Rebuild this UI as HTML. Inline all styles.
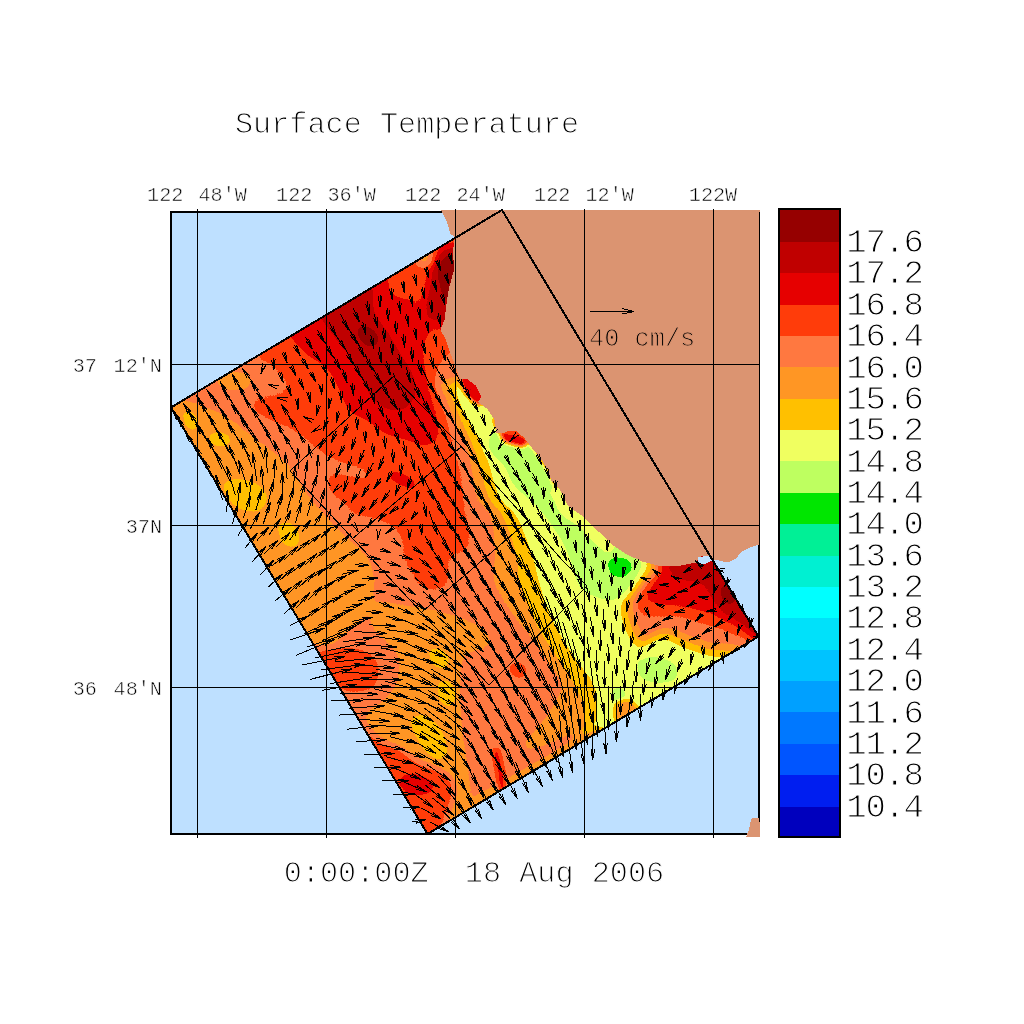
<!DOCTYPE html>
<html><head><meta charset="utf-8"><title>Surface Temperature</title>
<style>html,body{margin:0;padding:0;background:#fff}svg{display:block}text{font-family:"Liberation Mono","DejaVu Sans Mono",monospace;fill:#000;stroke:#fff;stroke-width:1.1px;white-space:pre}.s{stroke-width:.55px}</style></head><body>
<svg width="1024" height="1024" viewBox="0 0 1024 1024">
<defs>
<filter id="post" filterUnits="userSpaceOnUse" x="100" y="150" width="720" height="740" color-interpolation-filters="sRGB"><feComponentTransfer><feFuncR type="discrete" tableValues="0.0000 0.0000 0.0000 0.0000 0.0000 0.0000 0.0000 0.0000 0.0000 0.0000 0.0000 0.7451 0.9412 1.0000 1.0000 1.0000 1.0000 0.9020 0.7529 0.5882"/><feFuncG type="discrete" tableValues="0.0000 0.1176 0.3333 0.4706 0.6275 0.7647 0.8824 1.0000 0.9412 0.9412 0.9020 1.0000 1.0000 0.7529 0.5882 0.4706 0.2353 0.0000 0.0000 0.0000"/><feFuncB type="discrete" tableValues="0.7451 0.9412 1.0000 1.0000 1.0000 1.0000 0.9804 1.0000 0.8235 0.5882 0.0000 0.3765 0.3765 0.0000 0.1412 0.2510 0.0392 0.0000 0.0000 0.0000"/></feComponentTransfer></filter>
<filter id="b1" filterUnits="userSpaceOnUse" x="100" y="150" width="720" height="740" color-interpolation-filters="sRGB"><feGaussianBlur stdDeviation="7"/></filter>
<filter id="b2" filterUnits="userSpaceOnUse" x="100" y="150" width="720" height="740" color-interpolation-filters="sRGB"><feGaussianBlur stdDeviation="4"/></filter>
<filter id="b3" filterUnits="userSpaceOnUse" x="100" y="150" width="720" height="740" color-interpolation-filters="sRGB"><feGaussianBlur stdDeviation="2.2"/></filter>
<clipPath id="dom"><polygon points="502.0,210.0 171.0,407.5 427.5,834.0 758.5,636.5"/></clipPath>
<clipPath id="frm"><rect x="172" y="213" width="586" height="620"/></clipPath>
</defs>
<rect width="1024" height="1024" fill="#fff"/>
<rect x="171" y="212" width="588" height="622" fill="#bee0ff"/>
<g clip-path="url(#dom)"><g filter="url(#post)">
<rect x="100" y="150" width="720" height="740" fill="#c6c6c6"/>
<g filter="url(#b1)">
<path d="M255.0,340.0C267.3,325.3 319.2,299.2 350.0,280.0C380.8,260.8 419.2,235.8 440.0,225.0C460.8,214.2 469.2,202.5 475.0,215.0C480.8,227.5 477.5,279.2 475.0,300.0C472.5,320.8 464.7,330.8 460.0,340.0C455.3,349.2 450.7,350.8 447.0,355.0C443.3,359.2 440.5,360.0 438.0,365.0C435.5,370.0 430.8,375.8 432.0,385.0C433.2,394.2 441.2,408.3 445.0,420.0C448.8,431.7 452.3,445.0 455.0,455.0C457.7,465.0 459.5,470.8 461.0,480.0C462.5,489.2 462.7,501.3 464.0,510.0C465.3,518.7 468.8,525.0 469.0,532.0C469.2,539.0 468.5,548.0 465.0,552.0C461.5,556.0 451.2,550.8 448.0,556.0C444.8,561.2 449.7,578.2 446.0,583.0C442.3,587.8 432.5,588.2 426.0,585.0C419.5,581.8 411.5,573.2 407.0,564.0C402.5,554.8 404.8,537.8 399.0,530.0C393.2,522.2 381.8,520.5 372.0,517.0C362.2,513.5 348.5,514.8 340.0,509.0C331.5,503.2 326.5,489.3 321.0,482.0C315.5,474.7 310.0,471.2 307.0,465.0C304.0,458.8 306.3,451.2 303.0,445.0C299.7,438.8 292.8,432.5 287.0,428.0C281.2,423.5 274.5,421.7 268.0,418.0C261.5,414.3 249.0,409.3 248.0,406.0C247.0,402.7 256.7,399.8 262.0,398.0C267.3,396.2 275.2,396.7 280.0,395.0C284.8,393.3 291.7,392.5 291.0,388.0C290.3,383.5 282.0,376.0 276.0,368.0C270.0,360.0 242.7,354.7 255.0,340.0Z" fill="#d2d2d2"/>
<path d="M286.0,328.0C293.2,321.2 318.5,307.0 335.0,297.0C351.5,287.0 376.2,269.5 385.0,268.0C393.8,266.5 386.2,282.8 388.0,288.0C389.8,293.2 392.8,297.5 396.0,299.0C399.2,300.5 403.5,296.0 407.0,297.0C410.5,298.0 414.0,304.7 417.0,305.0C420.0,305.3 422.5,303.2 425.0,299.0C427.5,294.8 430.2,286.8 432.0,280.0C433.8,273.2 431.7,262.7 436.0,258.0C440.3,253.3 454.3,240.8 458.0,252.0C461.7,263.2 461.0,312.5 458.0,325.0C455.0,337.5 445.0,325.8 440.0,327.0C435.0,328.2 430.8,328.2 428.0,332.0C425.2,335.8 423.7,344.5 423.0,350.0C422.3,355.5 422.7,359.3 424.0,365.0C425.3,370.7 428.8,377.2 431.0,384.0C433.2,390.8 435.5,398.3 437.0,406.0C438.5,413.7 440.5,423.7 440.0,430.0C439.5,436.3 437.1,441.3 434.0,444.0C430.9,446.7 425.8,446.7 421.6,446.0C417.4,445.3 413.4,441.6 408.7,440.0C404.0,438.4 397.9,438.0 393.4,436.7C388.9,435.4 385.0,433.9 381.7,432.0C378.4,430.1 376.3,427.3 373.5,425.0C370.7,422.7 367.7,419.2 365.0,418.0C362.3,416.8 360.7,419.5 357.5,417.5C354.3,415.5 349.1,411.1 345.8,405.8C342.6,400.6 341.3,392.5 338.0,386.0C334.7,379.5 331.2,371.9 326.0,366.7C320.8,361.5 312.4,359.8 306.7,355.0C301.0,350.2 295.4,342.5 292.0,338.0C288.6,333.5 278.8,334.8 286.0,328.0Z" fill="#dfdfdf"/>
<path d="M318.0,304.0C324.2,294.7 358.8,274.8 368.0,276.0C377.2,277.2 370.1,301.7 373.4,311.0C376.6,320.3 383.1,324.5 387.5,331.6C391.9,338.7 396.4,347.4 400.0,353.4C403.6,359.4 406.8,362.8 409.4,367.5C412.0,372.2 414.6,376.9 415.6,381.6C416.6,386.3 416.9,391.2 415.6,395.6C414.3,400.0 411.4,405.4 407.8,408.0C404.2,410.6 398.2,411.2 393.8,411.0C389.3,410.8 385.0,409.2 381.0,406.6C377.0,404.0 373.1,400.0 370.0,395.6C366.9,391.2 365.3,385.8 362.5,380.0C359.7,374.2 356.4,366.5 353.0,361.0C349.6,355.5 345.7,351.9 342.0,347.0C338.3,342.1 335.0,338.8 331.0,331.6C327.0,324.4 311.8,313.3 318.0,304.0Z" fill="#ececec"/>
<path d="M651.8,560.0C644.8,565.8 641.3,578.2 638.0,585.0C634.7,591.8 632.0,595.8 632.0,600.6C632.0,605.4 634.4,611.4 638.0,614.0C641.6,616.6 648.5,616.0 653.8,616.0C659.0,616.0 664.2,614.0 669.4,614.0C674.6,614.0 679.8,614.7 685.0,616.0C690.2,617.3 695.4,620.3 700.6,622.0C705.8,623.7 710.1,624.3 716.0,626.0C721.9,627.7 726.8,628.8 735.8,632.0C744.8,635.2 761.0,650.3 770.0,645.0C779.0,639.7 798.3,616.7 790.0,600.0C781.7,583.3 738.3,553.3 720.0,545.0C701.7,536.7 691.4,547.5 680.0,550.0C668.6,552.5 658.8,554.2 651.8,560.0Z" fill="#d2d2d2"/>
<path d="M656.0,562.0C650.7,566.7 650.2,574.3 648.0,580.0C645.8,585.7 641.8,592.0 643.0,596.0C644.2,600.0 649.3,602.2 655.0,604.0C660.7,605.8 669.5,605.3 677.0,606.5C684.5,607.7 693.5,609.4 700.0,611.0C706.5,612.6 710.0,613.5 716.0,616.0C722.0,618.5 727.0,622.0 736.0,626.0C745.0,630.0 761.8,644.3 770.0,640.0C778.2,635.7 793.3,615.8 785.0,600.0C776.7,584.2 737.5,553.0 720.0,545.0C702.5,537.0 690.7,549.2 680.0,552.0C669.3,554.8 661.3,557.3 656.0,562.0Z" fill="#dfdfdf"/>
</g>
<g filter="url(#b2)">
<path d="M358.0,328.0C359.7,326.3 368.7,328.0 372.0,330.0C375.3,332.0 378.0,337.3 378.0,340.0C378.0,342.7 374.7,346.0 372.0,346.0C369.3,346.0 364.3,343.0 362.0,340.0C359.7,337.0 356.3,329.7 358.0,328.0Z" fill="#ffffff"/>
<path d="M432.0,256.0C437.3,251.0 457.0,239.0 462.0,250.0C467.0,261.0 465.7,310.0 462.0,322.0C458.3,334.0 445.7,322.7 440.0,322.0C434.3,321.3 430.3,321.7 428.0,318.0C425.7,314.3 425.7,306.3 426.0,300.0C426.3,293.7 429.0,287.3 430.0,280.0C431.0,272.7 426.7,261.0 432.0,256.0Z" fill="#ececec"/>
<path d="M440.0,262.0C443.5,257.5 458.3,252.0 462.0,258.0C465.7,264.0 464.7,291.3 462.0,298.0C459.3,304.7 449.5,300.2 446.0,298.0C442.5,295.8 442.0,291.0 441.0,285.0C440.0,279.0 436.5,266.5 440.0,262.0Z" fill="#fcfcfc"/>
<path d="M414.0,254.0C415.3,250.0 428.7,242.7 432.0,244.0C435.3,245.3 435.3,258.0 434.0,262.0C432.7,266.0 427.3,269.3 424.0,268.0C420.7,266.7 412.7,258.0 414.0,254.0Z" fill="#bcbcbc"/>
<path d="M160.0,395.0C165.3,394.0 186.2,400.5 197.0,404.0C207.8,407.5 216.5,411.2 225.0,416.0C233.5,420.8 240.5,427.3 248.0,433.0C255.5,438.7 263.5,444.8 270.0,450.0C276.5,455.2 280.8,456.7 287.0,464.0C293.2,471.3 300.5,485.2 307.0,494.0C313.5,502.8 319.5,509.8 326.0,517.0C332.5,524.2 338.7,529.5 346.0,537.0C353.3,544.5 365.7,551.5 370.0,562.0C374.3,572.5 375.3,588.7 372.0,600.0C368.7,611.3 360.3,623.3 350.0,630.0C339.7,636.7 328.3,658.3 310.0,640.0C291.7,621.7 264.2,558.3 240.0,520.0C215.8,481.7 178.3,430.8 165.0,410.0C151.7,389.2 154.7,396.0 160.0,395.0Z" fill="#b9b9b9"/>
<path d="M372.0,603.0C378.3,599.8 398.7,604.5 410.0,606.0C421.3,607.5 430.0,609.3 440.0,612.0C450.0,614.7 462.0,618.3 470.0,622.0C478.0,625.7 485.3,629.7 488.0,634.0C490.7,638.3 490.0,644.3 486.0,648.0C482.0,651.7 468.3,649.0 464.0,656.0C459.7,663.0 460.3,677.7 460.0,690.0C459.7,702.3 460.7,716.7 462.0,730.0C463.3,743.3 466.7,758.3 468.0,770.0C469.3,781.7 471.7,792.0 470.0,800.0C468.3,808.0 461.3,818.0 458.0,818.0C454.7,818.0 451.0,806.3 450.0,800.0C449.0,793.7 454.2,785.2 452.0,780.0C449.8,774.8 442.8,772.2 437.0,769.0C431.2,765.8 423.0,764.3 417.0,761.0C411.0,757.7 406.8,752.3 401.0,749.0C395.2,745.7 387.2,743.8 382.0,741.0C376.8,738.2 372.7,736.5 370.0,732.0C367.3,727.5 363.5,719.3 366.0,714.0C368.5,708.7 379.7,705.7 385.0,700.0C390.3,694.3 395.8,687.5 398.0,680.0C400.2,672.5 400.2,661.7 398.0,655.0C395.8,648.3 389.3,645.0 385.0,640.0C380.7,635.0 374.2,631.2 372.0,625.0C369.8,618.8 365.7,606.2 372.0,603.0Z" fill="#b9b9b9"/>
<path d="M318.0,655.0C318.3,649.3 332.7,650.5 340.0,650.0C347.3,649.5 356.0,649.7 362.0,652.0C368.0,654.3 374.0,658.7 376.0,664.0C378.0,669.3 377.3,679.7 374.0,684.0C370.7,688.3 362.0,690.0 356.0,690.0C350.0,690.0 344.3,689.8 338.0,684.0C331.7,678.2 317.7,660.7 318.0,655.0Z" fill="#d7d7d7"/>
<path d="M360.0,725.0C355.1,713.6 366.6,729.0 370.3,731.8C374.0,734.5 376.8,738.6 382.0,741.5C387.2,744.4 395.7,746.1 401.5,749.4C407.3,752.6 411.1,757.7 417.0,761.0C422.9,764.3 430.9,765.7 436.7,769.0C442.5,772.3 449.1,776.1 452.0,780.6C454.9,785.1 455.2,790.1 454.0,796.0C452.8,801.9 448.5,808.5 444.5,815.8C440.5,823.1 437.4,842.6 430.0,840.0C422.6,837.4 411.7,819.2 400.0,800.0C388.3,780.8 364.9,736.4 360.0,725.0Z" fill="#d2d2d2"/>
<path d="M400.0,778.0C402.0,775.7 409.8,774.3 415.0,775.0C420.2,775.7 428.2,779.3 431.0,782.0C433.8,784.7 434.2,789.0 432.0,791.0C429.8,793.0 422.8,794.3 418.0,794.0C413.2,793.7 406.0,791.7 403.0,789.0C400.0,786.3 398.0,780.3 400.0,778.0Z" fill="#e2e2e2"/>
<path d="M285.0,432.0C286.3,428.5 295.2,433.8 300.0,436.0C304.8,438.2 309.0,441.5 314.0,445.0C319.0,448.5 324.3,453.8 330.0,457.0C335.7,460.2 342.0,461.8 348.0,464.0C354.0,466.2 362.8,467.5 366.0,470.0C369.2,472.5 370.0,478.0 367.0,479.0C364.0,480.0 353.7,476.8 348.0,476.0C342.3,475.2 336.7,472.7 333.0,474.0C329.3,475.3 325.8,480.2 326.0,484.0C326.2,487.8 330.0,493.0 334.0,497.0C338.0,501.0 349.0,505.3 350.0,508.0C351.0,510.7 345.0,514.0 340.0,513.0C335.0,512.0 325.8,507.2 320.0,502.0C314.2,496.8 309.7,489.5 305.0,482.0C300.3,474.5 295.3,465.3 292.0,457.0C288.7,448.7 283.7,435.5 285.0,432.0Z" fill="#c6c6c6"/>
<path d="M440.0,383.0C438.2,386.2 444.5,392.8 447.0,399.0C449.5,405.2 451.2,410.7 455.0,420.0C458.8,429.3 465.8,442.2 469.5,455.0C473.2,467.8 473.4,486.8 477.0,497.0C480.6,507.2 488.0,506.3 491.0,516.0C494.0,525.7 494.5,544.3 495.0,555.0C495.5,565.7 491.5,570.8 494.0,580.0C496.5,589.2 503.7,600.3 510.0,610.0C516.3,619.7 525.3,628.8 532.0,638.0C538.7,647.2 545.0,656.8 550.0,665.0C555.0,673.2 562.3,678.7 562.0,687.0C561.7,695.3 552.5,704.8 548.0,715.0C543.5,725.2 503.9,757.6 535.0,748.0C566.1,738.4 706.0,674.7 734.8,657.2C763.5,639.7 715.0,646.5 707.4,643.0C699.8,639.5 694.5,638.4 689.3,636.3C684.2,634.3 680.9,631.9 676.6,630.7C672.3,629.6 668.2,628.0 663.4,629.5C658.5,631.0 651.8,640.2 647.5,639.7C643.3,639.3 640.3,633.0 637.9,627.0C635.5,621.0 631.9,610.4 632.9,603.7C633.9,597.0 639.7,593.0 643.9,586.8C648.1,580.6 661.1,573.5 658.1,566.4C655.2,559.3 635.9,551.1 626.0,544.0C616.1,536.9 608.3,532.0 599.0,524.0C589.7,516.0 577.5,504.7 570.0,496.0C562.5,487.3 559.5,480.8 554.0,472.0C548.5,463.2 544.3,451.0 537.0,443.0C529.7,435.0 516.3,428.8 510.0,424.0C503.7,419.2 502.8,418.3 499.0,414.0C495.2,409.7 491.5,403.2 487.0,398.0C482.5,392.8 476.8,386.0 472.0,383.0C467.2,380.0 463.3,380.0 458.0,380.0C452.7,380.0 441.8,379.8 440.0,383.0Z" fill="#b9b9b9"/>
<path d="M446.0,386.0C445.2,389.2 450.6,393.3 453.0,399.0C455.4,404.7 456.8,410.7 460.6,420.0C464.4,429.3 471.4,442.2 476.0,455.0C480.6,467.8 484.0,486.8 488.5,497.0C493.0,507.2 498.3,506.3 503.0,516.0C507.7,525.7 513.8,544.3 516.5,555.0C519.2,565.7 516.8,570.8 519.0,580.0C521.2,589.2 525.8,600.3 530.0,610.0C534.2,619.7 538.7,628.8 544.0,638.0C549.3,647.2 556.7,656.8 562.0,665.0C567.3,673.2 572.0,678.7 576.0,687.0C580.0,695.3 583.8,705.3 586.0,715.0C588.2,724.7 563.8,753.7 589.0,745.0C614.2,736.3 717.6,678.6 737.4,662.6C757.2,646.6 716.1,652.5 707.7,649.0C699.3,645.6 693.0,644.2 687.2,641.9C681.4,639.6 677.5,636.8 672.8,635.4C668.1,633.9 663.7,631.9 658.7,633.2C653.7,634.6 647.1,644.0 642.8,643.4C638.4,642.7 635.1,636.0 632.4,629.5C629.8,623.0 626.1,611.6 627.0,604.4C627.9,597.1 633.6,592.8 637.9,585.9C642.3,579.0 655.1,570.2 653.1,563.2C651.1,556.2 635.0,550.5 626.0,544.0C617.0,537.5 608.3,532.0 599.0,524.0C589.7,516.0 577.5,504.7 570.0,496.0C562.5,487.3 559.5,480.8 554.0,472.0C548.5,463.2 544.3,451.0 537.0,443.0C529.7,435.0 516.3,428.8 510.0,424.0C503.7,419.2 502.8,418.3 499.0,414.0C495.2,409.7 491.5,403.2 487.0,398.0C482.5,392.8 476.8,386.0 472.0,383.0C467.2,380.0 462.3,379.5 458.0,380.0C453.7,380.5 446.8,382.8 446.0,386.0Z" fill="#acacac"/>
<path d="M457.0,399.0C458.7,405.7 463.6,410.7 468.4,420.0C473.2,429.3 480.9,442.2 486.0,455.0C491.1,467.8 493.9,486.8 499.0,497.0C504.1,507.2 511.0,506.3 516.5,516.0C522.0,525.7 528.3,544.3 532.0,555.0C535.7,565.7 535.9,570.8 538.6,580.0C541.3,589.2 544.1,600.3 548.0,610.0C551.9,619.7 556.7,628.8 562.0,638.0C567.3,647.2 574.5,656.8 580.0,665.0C585.5,673.2 592.2,678.7 595.0,687.0C597.8,695.3 596.5,704.8 597.0,715.0C597.5,725.2 574.2,755.8 598.0,748.0C621.8,740.2 721.7,683.5 740.0,668.0C758.3,652.5 717.2,658.4 708.0,655.0C698.8,651.6 691.5,650.0 685.0,647.5C678.5,645.0 674.2,641.8 669.0,640.0C663.8,638.2 659.2,635.8 654.0,637.0C648.8,638.2 642.5,647.8 638.0,647.0C633.5,646.2 629.8,639.0 627.0,632.0C624.2,625.0 620.2,612.8 621.0,605.0C621.8,597.2 627.5,592.5 632.0,585.0C636.5,577.5 649.0,566.8 648.0,560.0C647.0,553.2 634.2,550.0 626.0,544.0C617.8,538.0 608.3,532.0 599.0,524.0C589.7,516.0 577.5,504.7 570.0,496.0C562.5,487.3 559.5,480.8 554.0,472.0C548.5,463.2 544.3,451.0 537.0,443.0C529.7,435.0 516.3,428.8 510.0,424.0C503.7,419.2 502.8,418.3 499.0,414.0C495.2,409.7 491.5,403.2 487.0,398.0C482.5,392.8 476.8,386.0 472.0,383.0C467.2,380.0 460.5,377.3 458.0,380.0C455.5,382.7 455.3,392.3 457.0,399.0Z" fill="#9f9f9f"/>
<path d="M487.0,448.0C488.5,454.0 499.5,459.7 504.0,466.0C508.5,472.3 508.3,479.0 514.0,486.0C519.7,493.0 530.3,499.3 538.0,508.0C545.7,516.7 554.5,529.0 560.0,538.0C565.5,547.0 567.7,553.7 571.0,562.0C574.3,570.3 574.3,581.7 580.0,588.0C585.7,594.3 597.7,598.5 605.0,600.0C612.3,601.5 618.7,600.2 624.0,597.0C629.3,593.8 633.7,586.5 637.0,581.0C640.3,575.5 645.8,570.5 644.0,564.0C642.2,557.5 633.3,549.3 626.0,542.0C618.7,534.7 609.3,528.2 600.0,520.0C590.7,511.8 578.0,501.7 570.0,493.0C562.0,484.3 557.8,477.2 552.0,468.0C546.2,458.8 542.0,445.5 535.0,438.0C528.0,430.5 516.7,424.3 510.0,423.0C503.3,421.7 498.8,425.8 495.0,430.0C491.2,434.2 485.5,442.0 487.0,448.0Z" fill="#939393"/>
<path d="M669.0,563.0C666.3,567.0 670.5,574.0 674.0,577.0C677.5,580.0 685.2,579.8 690.0,581.0C694.8,582.2 699.3,581.2 703.0,584.0C706.7,586.8 708.8,593.3 712.0,598.0C715.2,602.7 717.7,608.0 722.0,612.0C726.3,616.0 730.8,617.3 738.0,622.0C745.2,626.7 758.0,643.7 765.0,640.0C772.0,636.3 787.5,615.3 780.0,600.0C772.5,584.7 735.0,555.8 720.0,548.0C705.0,540.2 698.5,550.5 690.0,553.0C681.5,555.5 671.7,559.0 669.0,563.0Z" fill="#ececec"/>
</g>
<g filter="url(#b3)">
<path d="M218.0,376.0C220.3,373.7 228.8,372.0 234.0,372.0C239.2,372.0 246.7,373.5 249.0,376.0C251.3,378.5 250.8,384.7 248.0,387.0C245.2,389.3 236.7,390.2 232.0,390.0C227.3,389.8 222.3,388.3 220.0,386.0C217.7,383.7 215.7,378.3 218.0,376.0Z" fill="#b9b9b9"/>
<path d="M184.0,414.0C184.8,411.8 189.8,411.7 192.0,413.0C194.2,414.3 196.7,419.3 197.0,422.0C197.3,424.7 195.7,428.3 194.0,429.0C192.3,429.7 188.7,428.5 187.0,426.0C185.3,423.5 183.2,416.2 184.0,414.0Z" fill="#a7a7a7"/>
<path d="M210.0,436.0C211.0,434.2 216.8,432.7 220.0,433.0C223.2,433.3 228.0,436.0 229.0,438.0C230.0,440.0 228.5,444.0 226.0,445.0C223.5,446.0 216.7,445.5 214.0,444.0C211.3,442.5 209.0,437.8 210.0,436.0Z" fill="#a7a7a7"/>
<path d="M225.0,484.0C227.0,481.0 234.5,479.7 240.0,480.0C245.5,480.3 253.7,483.0 258.0,486.0C262.3,489.0 266.0,494.0 266.0,498.0C266.0,502.0 262.3,508.3 258.0,510.0C253.7,511.7 245.0,510.0 240.0,508.0C235.0,506.0 230.5,502.0 228.0,498.0C225.5,494.0 223.0,487.0 225.0,484.0Z" fill="#a7a7a7"/>
<path d="M279.0,527.0C280.0,523.8 286.8,522.8 290.0,524.0C293.2,525.2 297.0,530.5 298.0,534.0C299.0,537.5 298.3,543.5 296.0,545.0C293.7,546.5 286.8,546.0 284.0,543.0C281.2,540.0 278.0,530.2 279.0,527.0Z" fill="#a7a7a7"/>
<path d="M412.0,722.0C412.5,717.2 420.3,714.7 425.0,716.0C429.7,717.3 436.5,724.0 440.0,730.0C443.5,736.0 446.7,747.3 446.0,752.0C445.3,756.7 440.0,759.2 436.0,758.0C432.0,756.8 426.0,751.0 422.0,745.0C418.0,739.0 411.5,726.8 412.0,722.0Z" fill="#a7a7a7"/>
<path d="M430.0,652.0C431.0,649.7 437.0,649.0 440.0,650.0C443.0,651.0 447.3,655.2 448.0,658.0C448.7,660.8 446.3,666.0 444.0,667.0C441.7,668.0 436.3,666.5 434.0,664.0C431.7,661.5 429.0,654.3 430.0,652.0Z" fill="#a7a7a7"/>
<path d="M439.0,684.0C440.5,681.2 447.3,681.3 450.0,683.0C452.7,684.7 455.0,690.3 455.0,694.0C455.0,697.7 452.3,704.0 450.0,705.0C447.7,706.0 442.8,703.5 441.0,700.0C439.2,696.5 437.5,686.8 439.0,684.0Z" fill="#a7a7a7"/>
<path d="M511.0,666.0C512.2,664.3 517.5,663.3 520.0,664.0C522.5,664.7 525.8,667.8 526.0,670.0C526.2,672.2 523.2,676.3 521.0,677.0C518.8,677.7 514.7,675.8 513.0,674.0C511.3,672.2 509.8,667.7 511.0,666.0Z" fill="#d7d7d7"/>
<path d="M416.0,561.0C418.5,557.8 427.2,557.2 432.0,558.0C436.8,558.8 443.0,561.8 445.0,566.0C447.0,570.2 446.8,579.5 444.0,583.0C441.2,586.5 432.5,588.0 428.0,587.0C423.5,586.0 419.0,581.3 417.0,577.0C415.0,572.7 413.5,564.2 416.0,561.0Z" fill="#d6d6d6"/>
<path d="M391.0,473.0C392.7,472.2 398.2,472.5 402.0,474.0C405.8,475.5 412.3,479.7 414.0,482.0C415.7,484.3 414.3,487.7 412.0,488.0C409.7,488.3 403.3,485.5 400.0,484.0C396.7,482.5 393.5,480.8 392.0,479.0C390.5,477.2 389.3,473.8 391.0,473.0Z" fill="#e2e2e2"/>
<path d="M638.0,662.0C640.2,658.5 649.0,656.7 655.0,657.0C661.0,657.3 670.5,660.5 674.0,664.0C677.5,667.5 678.3,674.8 676.0,678.0C673.7,681.2 665.7,683.0 660.0,683.0C654.3,683.0 645.7,681.5 642.0,678.0C638.3,674.5 635.8,665.5 638.0,662.0Z" fill="#939393"/>
<path d="M612.0,690.0C613.7,688.2 619.7,686.8 622.0,688.0C624.3,689.2 626.5,694.5 626.0,697.0C625.5,699.5 621.3,702.7 619.0,703.0C616.7,703.3 613.2,701.2 612.0,699.0C610.8,696.8 610.3,691.8 612.0,690.0Z" fill="#939393"/>
<path d="M616.0,703.0C618.3,699.3 626.0,698.5 630.0,700.0C634.0,701.5 640.0,708.0 640.0,712.0C640.0,716.0 634.0,722.3 630.0,724.0C626.0,725.7 618.3,725.5 616.0,722.0C613.7,718.5 613.7,706.7 616.0,703.0Z" fill="#b6b6b6"/>
<path d="M609.0,562.0C610.0,559.3 614.8,558.2 618.0,558.0C621.2,557.8 625.8,559.2 628.0,561.0C630.2,562.8 631.8,566.5 631.0,569.0C630.2,571.5 626.2,575.2 623.0,576.0C619.8,576.8 614.3,576.3 612.0,574.0C609.7,571.7 608.0,564.7 609.0,562.0Z" fill="#838383"/>
<path d="M462.0,377.0C464.5,375.7 474.0,376.5 478.0,380.0C482.0,383.5 486.0,394.0 486.0,398.0C486.0,402.0 480.7,404.0 478.0,404.0C475.3,404.0 472.5,400.7 470.0,398.0C467.5,395.3 464.3,391.5 463.0,388.0C461.7,384.5 459.5,378.3 462.0,377.0Z" fill="#e5e5e5"/>
<path d="M501.0,430.0C503.2,427.7 511.5,425.0 516.0,426.0C520.5,427.0 526.7,432.7 528.0,436.0C529.3,439.3 526.7,444.7 524.0,446.0C521.3,447.3 515.5,445.0 512.0,444.0C508.5,443.0 504.8,442.3 503.0,440.0C501.2,437.7 498.8,432.3 501.0,430.0Z" fill="#e5e5e5"/>
<path d="M495.0,418.0C493.0,419.3 494.8,428.3 500.0,432.0C505.2,435.7 518.0,433.7 526.0,440.0C534.0,446.3 543.3,462.7 548.0,470.0C552.7,477.3 551.7,482.0 554.0,484.0C556.3,486.0 562.3,485.7 562.0,482.0C561.7,478.3 556.7,469.0 552.0,462.0C547.3,455.0 540.7,446.3 534.0,440.0C527.3,433.7 518.5,427.7 512.0,424.0C505.5,420.3 497.0,416.7 495.0,418.0Z" fill="#cccccc"/>
<path d="M722.0,588.0C723.0,585.5 727.7,584.0 730.0,585.0C732.3,586.0 735.7,591.0 736.0,594.0C736.3,597.0 734.0,602.0 732.0,603.0C730.0,604.0 725.7,602.5 724.0,600.0C722.3,597.5 721.0,590.5 722.0,588.0Z" fill="#ffffff"/>
<path d="M452.0,812.0C458.7,804.5 484.0,792.3 500.0,783.0C516.0,773.7 532.0,765.2 548.0,756.0C564.0,746.8 586.7,730.3 596.0,728.0C605.3,725.7 610.7,734.7 604.0,742.0C597.3,749.3 572.0,762.3 556.0,772.0C540.0,781.7 524.0,790.7 508.0,800.0C492.0,809.3 469.3,826.0 460.0,828.0C450.7,830.0 445.3,819.5 452.0,812.0Z" fill="#b6b6b6"/>
<path d="M493.0,752.0C493.5,748.3 497.2,747.0 499.0,750.0C500.8,753.0 502.8,763.3 504.0,770.0C505.2,776.7 506.7,786.2 506.0,790.0C505.3,793.8 501.7,796.0 500.0,793.0C498.3,790.0 497.2,778.8 496.0,772.0C494.8,765.2 492.5,755.7 493.0,752.0Z" fill="#dcdcdc"/>
<path d="M560.0,484.0C562.5,484.2 564.0,489.8 566.0,493.0C568.0,496.2 568.3,499.7 572.0,503.0C575.7,506.3 582.7,508.7 588.0,513.0C593.3,517.3 599.3,524.3 604.0,529.0C608.7,533.7 615.3,537.2 616.0,541.0C616.7,544.8 611.7,552.0 608.0,552.0C604.3,552.0 599.0,545.5 594.0,541.0C589.0,536.5 583.3,529.5 578.0,525.0C572.7,520.5 565.7,517.8 562.0,514.0C558.3,510.2 557.8,505.7 556.0,502.0C554.2,498.3 550.3,495.0 551.0,492.0C551.7,489.0 557.5,483.8 560.0,484.0Z" fill="#a4a4a4"/>
</g>
</g></g>
<rect x="171" y="212" width="588" height="622" fill="none" stroke="#000" stroke-width="2" shape-rendering="crispEdges"/>
<polygon points="441.0,210.0 444.0,216.0 447.0,222.0 449.0,228.0 450.0,234.0 453.0,235.5 455.0,237.0 453.0,250.0 454.0,270.0 449.0,288.0 447.0,300.0 444.5,320.0 440.5,330.0 446.0,340.0 451.0,355.0 455.0,365.0 459.8,378.6 467.0,379.0 475.5,385.4 481.3,397.0 478.0,402.0 487.2,408.8 495.0,420.5 496.0,433.0 503.0,433.5 506.7,431.5 516.0,431.0 524.3,438.0 532.0,448.0 540.0,457.7 547.7,469.4 551.6,481.0 558.0,487.0 563.0,495.0 568.0,506.0 583.0,516.5 599.0,532.0 611.0,544.0 626.0,554.0 642.0,561.5 662.0,566.5 681.0,565.5 696.7,562.5 698.7,556.7 708.4,555.7 714.3,559.6 728.0,562.5 735.8,558.6 741.6,551.8 751.4,547.0 757.3,545.0 759.5,545.0 759.5,210.0" fill="#db9471" shape-rendering="crispEdges"/>
<polygon points="752.0,818.0 759.8,818.0 759.8,837.0 746.0,837.0 749.0,830.0 750.0,824.0" fill="#db9471" shape-rendering="crispEdges"/>
<polygon points="698,557 708,556 713.5,560 706,563.5 698,563.5" fill="#bee0ff" shape-rendering="crispEdges"/>
<rect x="759" y="212" width="1" height="610" fill="#000"/>
<path d="M197.5,209V838M326.5,209V838M455.5,209V838M584.5,209V838M713.5,209V838M171,364.5H759M171,525.5H759M171,687.5H759" stroke="#000" stroke-width="1" fill="none" shape-rendering="crispEdges"/>
<path d="M290,471L393.4,376.4L461.4,446.7L528,521L560,557.7L587,586L489,685ZM352,539L461.4,446.7M422,612L528,521" stroke="#000" stroke-width="1" fill="none" shape-rendering="crispEdges"/>
<g clip-path="url(#frm)"><path d="M723.1,570.4L713.8,569.4M724.7,568.7L713.8,569.4L724.4,572.3M728.9,579.2L724.0,587.2M728.1,577.0L724.0,587.2L731.2,578.9M731.4,591.9L737.5,601.2M730.0,593.1L737.5,601.2L733.1,591.1M740.6,605.2L744.4,614.5M738.6,605.2L744.4,614.5L742.0,603.8M751.5,618.0L749.5,628.3M749.8,617.3L749.5,628.3L753.3,618.0M763.6,636.6L753.4,636.4M764.3,634.8L753.4,636.4L764.2,638.4M702.3,566.8L694.9,560.4M704.3,566.1L694.9,560.4L701.9,568.9M711.1,574.1L702.1,579.8M710.3,572.4L702.1,579.8L712.3,575.5M716.3,585.9L713.0,594.6M715.1,583.8L713.0,594.6L718.5,585.1M726.2,599.9L719.1,607.3M725.3,598.2L719.1,607.3L727.9,600.7M733.8,613.1L727.4,620.7M733.0,611.2L727.4,620.7L735.8,613.6M740.1,625.8L737.2,634.6M738.8,623.8L737.2,634.6L742.3,624.9M749.2,639.3L744.1,647.8M748.2,637.6L744.1,647.8L751.3,639.4M691.1,568.1L682.5,573.2M690.9,566.1L682.5,573.2L692.7,569.2M699.5,580.8L690.1,587.2M698.0,579.5L690.1,587.2L700.1,582.5M707.7,598.0L697.9,596.5M708.9,596.4L697.9,596.5L708.3,600.0M716.0,609.8L705.6,611.5M716.0,607.9L705.6,611.5L716.6,611.5M723.0,620.8L714.6,627.1M722.2,619.2L714.6,627.1L724.4,622.1M726.3,632.3L727.4,642.3M724.4,631.7L727.4,642.3L728.0,631.3M739.0,647.3L730.7,654.0M738.0,645.8L730.7,654.0L740.3,648.6M679.0,579.7L670.9,575.6M681.4,578.9L670.9,575.6L679.8,582.2M688.4,589.6L677.5,592.4M687.6,587.9L677.5,592.4L688.5,591.5M695.6,601.7L686.4,607.0M694.8,600.0L686.4,607.0L696.7,603.1M702.7,613.7L695.3,621.7M701.3,612.5L695.3,621.7L704.0,614.9M712.2,627.6L701.8,634.4M709.9,627.0L701.8,634.4L711.9,630.0M719.0,640.3L711.1,648.3M717.4,639.3L711.1,648.3L720.0,641.9M722.1,651.9L723.9,663.4M720.5,653.0L723.9,663.4L724.1,652.4M658.4,574.1L651.8,568.8M661.4,574.1L651.8,568.8L659.1,577.0M667.6,584.7L658.6,584.8M669.5,582.9L658.6,584.8L669.5,586.5M675.6,596.3L666.7,599.9M676.1,594.1L666.7,599.9L677.4,597.5M684.5,610.3L673.8,612.5M684.1,608.5L673.8,612.5L684.8,612.1M689.1,619.5L685.3,629.9M687.3,619.1L685.3,629.9L690.7,620.4M701.2,635.9L689.2,640.2M698.8,634.8L689.2,640.2L700.0,638.3M702.7,645.2L703.7,657.6M701.0,646.9L703.7,657.6L704.6,646.6M713.8,658.7L708.6,670.7M711.3,660.0L708.6,670.7L714.6,661.5M449.6,253.0L452.2,264.2M448.0,254.0L452.2,264.2L451.5,253.2M636.4,560.8L634.1,569.4M635.2,558.5L634.1,569.4L638.7,559.4M646.7,579.5L639.9,577.4M650.8,578.8L639.9,577.4L649.7,582.3M656.0,591.7L646.6,591.9M657.4,589.8L646.6,591.9L657.5,593.5M664.0,606.8L654.7,603.4M665.5,605.5L654.7,603.4L664.2,608.9M672.9,616.2L661.8,620.7M671.2,614.9L661.8,620.7L672.5,618.3M674.2,626.2L676.5,637.4M672.6,627.1L676.5,637.4L676.1,626.4M681.7,639.4L685.0,650.8M680.2,640.9L685.0,650.8L683.7,639.9M692.2,652.1L690.6,664.7M690.1,653.7L690.6,664.7L693.7,654.2M701.6,666.0L697.1,677.5M699.4,666.7L697.1,677.5L702.8,668.1M437.4,260.4L440.7,270.9M435.8,261.1L440.7,270.9L439.2,260.0M445.4,273.7L448.8,284.2M443.8,274.4L448.8,284.2L447.2,273.3M607.7,539.9L607.1,551.2M605.9,540.3L607.1,551.2L609.5,540.5M615.1,553.5L615.8,564.3M613.3,553.5L615.8,564.3L616.9,553.3M624.1,566.7L622.8,577.6M622.3,566.7L622.8,577.6L625.9,567.1M632.1,579.7L630.8,591.4M630.2,580.4L630.8,591.4L633.8,580.8M642.2,594.6L636.7,603.1M641.1,593.0L636.7,603.1L644.1,595.0M645.3,606.6L649.7,617.7M644.0,608.3L649.7,617.7L647.4,607.0M660.4,622.2L650.6,628.8M658.6,621.3L650.6,628.8L660.6,624.3M668.8,637.1L658.2,640.6M667.9,635.4L658.2,640.6L669.1,638.9M674.6,646.8L668.5,657.6M672.2,647.2L668.5,657.6L675.4,649.0M682.0,659.2L677.1,671.8M679.3,661.0L677.1,671.8L682.7,662.3M691.0,672.4L684.1,685.2M687.7,674.8L684.1,685.2L690.9,676.5M426.1,267.3L428.4,278.1M424.4,267.9L428.4,278.1L427.9,267.1M433.6,280.7L437.0,291.4M432.0,281.6L437.0,291.4L435.4,280.5M441.6,293.7L445.0,305.0M440.1,295.1L445.0,305.0L443.6,294.1M537.3,453.8L541.7,464.8M536.0,455.4L541.7,464.8L539.4,454.0M545.5,466.4L549.5,478.8M544.4,469.1L549.5,478.8L547.9,468.0M555.3,480.0L555.7,491.9M553.6,481.1L555.7,491.9L557.2,481.0M562.8,493.3L564.2,505.3M561.2,494.7L564.2,505.3L564.8,494.3M570.9,507.2L572.2,518.0M569.1,507.4L572.2,518.0L572.7,507.0M579.1,520.5L580.1,531.3M577.3,520.7L580.1,531.3L580.9,520.4M586.7,534.2L588.5,544.3M584.8,534.0L588.5,544.3L588.4,533.3M595.3,547.3L595.9,557.9M593.5,547.2L595.9,557.9L597.1,547.0M603.7,559.8L603.5,572.0M601.9,561.2L603.5,572.0L605.5,561.2M611.5,572.6L611.8,585.9M609.7,575.1L611.8,585.9L613.3,575.0M620.6,586.2L618.7,598.9M618.5,587.9L618.7,598.9L622.1,588.5M628.5,599.8L626.8,612.0M626.5,601.0L626.8,612.0L630.1,601.5M636.8,612.5L634.6,625.9M634.5,614.9L634.6,625.9L638.1,615.5M649.4,628.3L638.0,636.9M645.6,628.9L638.0,636.9L647.7,631.8M656.2,640.6L647.2,651.2M652.8,641.7L647.2,651.2L655.6,644.1M663.9,654.2L655.5,664.2M661.1,654.7L655.5,664.2L663.9,657.1M670.2,665.1L665.3,680.0M666.9,669.1L665.3,680.0L670.4,670.2M677.5,678.3L674.0,693.5M674.7,682.5L674.0,693.5L678.2,683.3M413.9,273.8L417.0,285.7M412.5,275.6L417.0,285.7L416.0,274.7M422.3,286.8L424.6,299.3M420.9,289.0L424.6,299.3L424.4,288.4M431.0,300.3L432.0,312.5M429.3,301.9L432.0,312.5L432.9,301.6M438.2,313.1L440.8,326.4M436.9,316.1L440.8,326.4L440.5,315.4M513.7,437.6L509.6,441.8M515.8,432.7L509.6,441.8L518.4,435.2M517.0,448.5L522.3,457.6M515.3,449.1L522.3,457.6L518.4,447.3M525.1,460.2L530.3,472.5M524.4,463.2L530.3,472.5L527.7,461.8M532.7,473.1L538.7,486.3M532.5,477.1L538.7,486.3L535.8,475.6M543.5,487.2L543.8,498.8M541.7,488.0L543.8,498.8L545.4,487.9M549.8,500.1L553.6,512.5M548.7,502.7L553.6,512.5L552.2,501.6M558.1,514.3L561.4,525.0M556.4,515.2L561.4,525.0L559.9,514.1M567.5,527.1L567.9,538.8M565.7,528.1L567.9,538.8L569.4,527.9M575.0,540.1L576.5,552.6M573.4,542.0L576.5,552.6L577.0,541.6M581.5,551.4L586.0,567.9M581.4,557.9L586.0,567.9L584.9,556.9M590.9,566.1L592.7,579.9M589.5,569.4L592.7,579.9L593.1,568.9M599.0,580.0L600.6,592.7M597.5,582.1L600.6,592.7L601.1,581.7M607.0,592.7L608.7,606.6M605.5,596.0L608.7,606.6L609.2,595.6M615.0,604.7L616.7,621.2M613.8,610.6L616.7,621.2L617.4,610.2M624.4,618.2L623.3,634.4M622.2,623.4L623.3,634.4L625.8,623.7M633.0,632.0L630.7,647.2M630.6,636.2L630.7,647.2L634.1,636.8M642.4,645.7L637.4,660.1M639.2,649.3L637.4,660.1L642.7,650.5M649.9,658.6L645.9,673.9M646.9,663.0L645.9,673.9L650.4,663.9M657.0,671.5L654.9,687.7M654.5,676.7L654.9,687.7L658.1,677.1M664.9,685.5L663.0,700.4M662.6,689.4L663.0,700.4L666.2,689.8M403.0,281.1L404.3,292.6M401.3,282.0L404.3,292.6L404.9,281.6M410.3,293.7L413.0,306.6M409.0,296.3L413.0,306.6L412.5,295.6M418.7,307.1L420.6,319.9M417.2,309.4L420.6,319.9L420.8,308.9M426.6,320.6L428.7,333.0M425.1,322.6L428.7,333.0L428.7,322.0M434.4,333.6L437.0,346.6M433.1,336.3L437.0,346.6L436.6,335.6M442.1,346.0L445.3,360.9M441.2,350.6L445.3,360.9L444.8,349.9M447.0,357.6L456.4,375.9M449.8,367.1L456.4,375.9L453.1,365.4M455.1,371.4L464.3,388.8M457.6,380.1L464.3,388.8L460.9,378.4M464.9,386.9L470.6,400.0M464.6,390.8L470.6,400.0L467.9,389.3M473.2,401.4L478.4,412.1M472.0,403.2L478.4,412.1L475.3,401.6M482.0,414.4L485.6,425.8M480.6,416.0L485.6,425.8L484.0,414.9M494.0,431.0L489.6,435.9M495.5,426.6L489.6,435.9L498.2,429.0M501.7,444.0L498.0,449.5M502.5,439.5L498.0,449.5L505.5,441.5M505.4,454.6L510.3,465.5M504.2,456.4L510.3,465.5L507.5,454.9M511.6,466.0L520.1,480.8M513.1,472.3L520.1,480.8L516.3,470.5M520.1,479.1L527.7,494.4M521.2,485.5L527.7,494.4L524.5,483.9M530.1,493.2L533.7,506.9M529.2,496.9L533.7,506.9L532.7,496.0M535.8,504.9L543.9,521.9M537.6,512.9L543.9,521.9L540.9,511.3M545.1,519.3L550.7,534.1M545.2,524.6L550.7,534.1L548.6,523.3M553.5,533.2L558.3,546.9M553.0,537.3L558.3,546.9L556.4,536.1M561.1,545.8L566.8,561.0M561.3,551.4L566.8,561.0L564.7,550.2M568.2,557.7L575.7,575.7M569.8,566.4L575.7,575.7L573.2,564.9M577.8,570.7L582.2,589.3M577.9,579.2L582.2,589.3L581.4,578.3M586.3,585.0L589.7,601.7M585.7,591.4L589.7,601.7L589.3,590.7M594.9,597.4L597.1,616.0M594.0,605.4L597.1,616.0L597.6,605.0M603.2,609.2L604.8,630.8M602.2,620.1L604.8,630.8L605.8,619.8M611.0,622.7L613.0,644.0M610.2,633.4L613.0,644.0L613.8,633.0M619.9,636.7L620.2,656.6M618.2,645.8L620.2,656.6L621.8,645.7M629.1,649.7L627.0,670.3M626.3,659.3L627.0,670.3L629.9,659.7M636.3,664.2L635.9,682.4M634.3,671.5L635.9,682.4L637.9,671.6M645.1,678.6L643.1,694.8M642.6,683.8L643.1,694.8L646.2,684.2M652.6,691.8L651.6,708.2M650.5,697.2L651.6,708.2L654.1,697.5M391.4,287.9L392.2,299.9M389.7,289.2L392.2,299.9L393.3,288.9M399.0,300.8L400.7,313.6M397.5,303.1L400.7,313.6L401.1,302.6M406.7,314.3L409.0,326.7M405.2,316.4L409.0,326.7L408.8,315.7M414.8,327.6L416.9,340.1M413.3,329.7L416.9,340.1L416.9,329.1M422.3,340.2L425.4,354.1M421.3,343.9L425.4,354.1L424.8,343.1M429.8,352.0L433.9,369.0M429.6,358.9L433.9,369.0L433.2,358.1M433.1,363.0L446.7,384.6M439.4,376.4L446.7,384.6L442.4,374.5M441.3,376.4L454.5,397.9M447.3,389.7L454.5,397.9L450.4,387.8M450.8,391.8L461.1,409.2M454.0,400.8L461.1,409.2L457.1,398.9M460.5,407.4L467.4,420.2M460.6,411.5L467.4,420.2L463.9,409.8M468.6,419.2L475.3,435.0M469.4,425.8L475.3,435.0L472.7,424.4M476.0,432.9L484.0,448.0M477.3,439.3L484.0,448.0L480.5,437.6M484.0,446.5L491.9,461.1M485.2,452.4L491.9,461.1L488.4,450.7M491.8,460.1L500.2,474.1M493.1,465.7L500.2,474.1L496.2,463.9M500.1,472.9L507.9,488.0M501.3,479.2L507.9,488.0L504.5,477.5M506.2,484.8L517.9,502.8M510.5,494.7L517.9,502.8L513.5,492.7M515.4,496.6L524.7,517.6M518.7,508.4L524.7,517.6L522.0,507.0M523.0,511.4L533.1,529.5M526.2,520.9L533.1,529.5L529.4,519.1M530.7,524.1L541.5,543.5M534.6,534.9L541.5,543.5L537.8,533.1M540.0,537.2L548.2,557.0M542.4,547.7L548.2,557.0L545.7,546.3M548.5,549.9L555.7,571.0M550.5,561.3L555.7,571.0L553.9,560.1M556.7,564.9L563.5,582.6M557.9,573.1L563.5,582.6L561.3,571.8M565.3,577.7L571.0,596.5M566.1,586.6L571.0,596.5L569.6,585.6M573.5,591.0L578.8,609.8M574.1,599.9L578.8,609.8L577.6,598.9M581.9,604.2L586.5,623.2M582.2,613.1L586.5,623.2L585.7,612.3M590.4,617.2L593.9,637.0M590.3,626.6L593.9,637.0L593.8,626.0M600.2,629.8L600.2,651.0M598.4,640.2L600.2,651.0L602.0,640.1M607.9,643.6L608.6,663.9M606.4,653.1L608.6,663.9L610.0,653.0M616.0,657.8L616.5,676.3M614.4,665.5L616.5,676.3L618.0,665.4M623.9,670.3L624.6,690.5M622.4,679.7L624.6,690.5L626.0,679.6M633.3,681.2L631.2,706.2M630.3,695.2L631.2,706.2L633.9,695.5M640.0,693.4L640.5,720.7M638.5,709.9L640.5,720.7L642.2,709.8M380.0,294.8L380.0,307.0M378.1,296.2L380.0,307.0L381.8,296.2M387.7,307.8L388.3,320.7M386.0,310.0L388.3,320.7L389.6,309.8M395.4,320.7L396.6,334.4M393.9,323.8L396.6,334.4L397.5,323.5M403.3,334.4L404.8,347.4M401.7,336.8L404.8,347.4L405.3,336.4M411.3,346.9L412.8,361.5M409.9,350.9L412.8,361.5L413.5,350.5M418.0,359.9L422.1,375.2M417.5,365.2L422.1,375.2L421.0,364.2M422.1,368.6L434.1,393.2M427.7,384.2L434.1,393.2L431.0,382.6M430.2,383.2L441.9,405.3M435.3,396.5L441.9,405.3L438.5,394.8M434.3,393.0L453.9,422.1M446.4,414.2L453.9,422.1L449.4,412.1M439.5,402.5L464.7,439.3M457.1,431.3L464.7,439.3L460.1,429.3M452.3,421.2L468.0,447.2M460.8,438.9L468.0,447.2L463.9,437.0M457.3,430.8L479.0,464.2M471.6,456.1L479.0,464.2L474.6,454.1M466.6,440.7L485.7,481.0M479.4,472.0L485.7,481.0L482.7,470.4M476.2,460.7L492.2,487.7M485.1,479.3L492.2,487.7L488.2,477.4M482.7,471.5L501.7,503.5M494.6,495.1L501.7,503.5L497.7,493.2M488.5,482.2L511.9,519.5M504.6,511.3L511.9,519.5L507.7,509.3M497.9,496.5L518.6,531.8M511.5,523.4L518.6,531.8L514.7,521.6M509.1,509.8L523.4,545.2M517.6,535.8L523.4,545.2L521.0,534.5M513.0,520.9L535.5,560.8M528.6,552.2L535.5,560.8L531.8,550.4M523.6,537.8L540.9,570.5M534.2,561.8L540.9,570.5L537.5,560.1M531.4,551.8L549.2,583.2M542.3,574.6L549.2,583.2L545.4,572.8M540.3,563.3L556.3,598.3M550.1,589.2L556.3,598.3L553.4,587.7M549.2,579.1L563.4,609.2M557.2,600.1L563.4,609.2L560.4,598.6M558.9,594.3L569.8,620.6M563.9,611.3L569.8,620.6L567.3,609.9M567.2,606.2L577.5,635.4M572.2,625.8L577.5,635.4L575.6,624.6M576.2,621.0L584.5,647.2M579.5,637.4L584.5,647.2L583.0,636.3M587.3,636.6L589.5,658.3M586.6,647.7L589.5,658.3L590.2,647.3M596.0,649.4L596.8,672.1M594.6,661.3L596.8,672.1L598.2,661.2M604.2,660.8L604.6,687.4M602.6,676.6L604.6,687.4L606.3,676.5M612.2,671.5L612.6,703.4M610.7,692.6L612.6,703.4L614.3,692.5M620.4,686.4L620.5,715.2M618.6,704.3L620.5,715.2L622.3,704.3M630.1,700.9L626.8,727.3M626.4,716.3L626.8,727.3L630.0,716.7M367.3,301.2L369.1,314.7M365.8,304.2L369.1,314.7L369.4,303.7M374.5,314.5L377.8,328.1M373.5,317.9L377.8,328.1L377.0,317.1M383.6,327.8L384.7,341.5M382.1,330.8L384.7,341.5L385.7,330.5M391.9,341.0L392.5,354.9M390.2,344.1L392.5,354.9L393.8,344.0M398.8,354.4L401.7,368.1M397.6,357.9L401.7,368.1L401.2,357.2M406.0,366.6L410.5,382.6M405.8,372.6L410.5,382.6L409.3,371.7M412.7,378.0L419.8,397.9M414.4,388.3L419.8,397.9L417.9,387.0M419.1,390.0L429.5,412.5M423.3,403.4L429.5,412.5L426.6,401.9M426.0,401.3L438.6,427.9M432.3,418.9L438.6,427.9L435.6,417.3M433.0,415.7L447.6,440.1M440.5,431.7L447.6,440.1L443.6,429.9M441.5,430.0L455.1,452.5M448.0,444.2L455.1,452.5L451.1,442.3M444.7,436.6L467.9,472.5M460.5,464.4L467.9,472.5L463.6,462.4M453.1,447.3L475.6,488.5M468.8,479.8L475.6,488.5L472.0,478.1M462.9,463.1L481.8,499.4M475.2,490.6L481.8,499.4L478.4,489.0M470.3,476.1L490.5,513.0M483.7,504.4L490.5,513.0L486.9,502.6M477.7,485.5L499.1,530.3M492.8,521.3L499.1,530.3L496.1,519.7M485.9,501.6L506.9,540.8M500.2,532.1L506.9,540.8L503.4,530.4M495.1,514.9L513.8,554.2M507.5,545.1L513.8,554.2L510.7,543.6M502.8,526.8L522.1,568.9M515.9,559.8L522.1,568.9L519.2,558.3M509.1,542.5L531.8,580.0M524.6,571.6L531.8,580.0L527.7,569.7M519.7,554.0L537.3,595.1M531.3,585.8L537.3,595.1L534.7,584.4M526.3,563.9L546.7,611.8M540.8,602.6L546.7,611.8L544.1,601.1M535.3,581.3L553.7,621.1M547.5,612.0L553.7,621.1L550.8,610.5M545.6,595.7L559.4,633.3M554.0,623.8L559.4,633.3L557.4,622.5M554.6,606.6L566.5,649.1M561.8,639.1L566.5,649.1L565.3,638.2M562.7,621.8L574.4,660.5M569.5,650.7L574.4,660.5L573.0,649.6M572.2,639.3L580.9,669.7M576.2,659.8L580.9,669.7L579.7,658.8M583.2,650.6L586.0,685.1M583.3,674.4L586.0,685.1L586.9,674.1M590.2,660.7L595.0,701.6M591.9,691.1L595.0,701.6L595.5,690.6M596.8,674.4L604.4,714.5M600.6,704.2L604.4,714.5L604.2,703.5M608.7,686.1L608.5,729.5M606.8,718.7L608.5,729.5L610.4,718.7M617.0,700.2L616.3,742.1M614.7,731.2L616.3,742.1L618.3,731.3M353.2,307.9L359.5,322.1M353.4,312.9L359.5,322.1L356.7,311.5M362.9,322.1L365.8,334.6M361.6,324.5L365.8,334.6L365.1,323.7M370.7,334.7L374.0,348.6M369.7,338.5L374.0,348.6L373.3,337.7M379.6,347.4L381.1,362.6M378.3,352.0L381.1,362.6L381.9,351.7M386.5,361.4L390.3,375.2M385.7,365.3L390.3,375.2L389.2,364.3M393.4,373.0L399.4,390.3M394.2,380.7L399.4,390.3L397.6,379.5M400.3,386.9L408.6,403.0M402.0,394.2L408.6,403.0L405.2,392.6M408.1,399.4L416.8,417.2M410.4,408.3L416.8,417.2L413.7,406.7M414.7,411.3L426.3,432.0M419.4,423.4L426.3,432.0L422.6,421.7M424.4,427.2L432.6,442.7M425.9,434.0L432.6,442.7L429.1,432.3M433.7,440.4L439.3,456.2M434.0,446.6L439.3,456.2L437.4,445.4M437.4,446.3L451.6,477.0M445.4,467.9L451.6,477.0L448.7,466.4M445.2,458.7L459.8,491.2M453.7,482.1L459.8,491.2L457.0,480.6M450.6,471.7L470.4,504.8M463.3,496.5L470.4,504.8L466.4,494.6M459.7,485.3L477.4,518.0M470.6,509.3L477.4,518.0L473.8,507.5M465.1,497.6L488.0,532.3M480.5,524.2L488.0,532.3L483.6,522.2M475.1,510.9L494.1,545.7M487.3,537.0L494.1,545.7L490.5,535.3M481.2,522.5L504.0,560.7M496.9,552.3L504.0,560.7L500.0,550.4M488.5,533.0L512.8,576.8M505.9,568.2L512.8,576.8L509.1,566.5M496.3,548.6L520.9,587.9M513.6,579.7L520.9,587.9L516.7,577.7M508.2,560.9L525.1,602.3M519.3,592.9L525.1,602.3L522.7,591.5M515.6,571.5L533.7,618.4M528.1,608.9L533.7,618.4L531.5,607.6M524.6,587.6L540.7,628.9M535.1,619.4L540.7,628.9L538.5,618.1M533.0,602.9L548.4,640.3M542.6,630.9L548.4,640.3L545.9,629.5M543.6,613.2L553.9,656.6M549.6,646.4L553.9,656.6L553.1,645.6M549.3,627.8L564.1,668.7M558.7,659.1L564.1,668.7L562.1,657.9M558.9,643.9L570.6,679.2M565.5,669.5L570.6,679.2L568.9,668.3M567.7,652.4L577.8,697.4M573.7,687.2L577.8,697.4L577.2,686.4M576.6,663.8L584.9,712.6M581.3,702.3L584.9,712.6L584.9,701.6M585.1,680.0L592.5,723.1M588.9,712.7L592.5,723.1L592.4,712.1M596.1,692.6L597.5,737.2M595.3,726.4L597.5,737.2L599.0,726.3M603.7,702.5L606.0,753.9M603.7,743.1L606.0,753.9L607.3,743.0M340.4,313.9L348.7,330.3M342.1,321.4L348.7,330.3L345.4,319.8M347.8,326.6L357.3,344.2M350.5,335.5L357.3,344.2L353.7,333.8M356.6,340.1L364.5,357.4M358.4,348.3L364.5,357.4L361.7,346.8M365.0,354.4L372.1,369.7M365.9,360.7L372.1,369.7L369.2,359.1M372.2,366.9L381.0,383.9M374.4,375.1L381.0,383.9L377.6,373.4M380.4,380.1L388.8,397.4M382.4,388.4L388.8,397.4L385.7,386.8M387.7,394.4L397.5,409.7M390.1,401.5L397.5,409.7L393.2,399.6M399.2,408.4L402.0,422.4M398.1,412.1L402.0,422.4L401.7,411.4M404.1,420.2L413.2,437.3M406.5,428.5L413.2,437.3L409.7,426.8M412.7,433.8L420.7,450.2M414.3,441.3L420.7,450.2L417.5,439.7M421.6,446.6L427.7,464.1M422.4,454.5L427.7,464.1L425.9,453.3M425.8,454.6L439.6,482.8M433.2,473.8L439.6,482.8L436.4,472.2M433.2,467.4L448.2,496.6M441.6,487.8L448.2,496.6L444.8,486.1M440.8,481.9L456.7,508.7M449.6,500.3L456.7,508.7L452.7,498.5M446.8,492.2L466.6,525.2M459.5,516.8L466.6,525.2L462.6,514.9M456.6,506.7L472.9,537.3M466.2,528.6L472.9,537.3L469.4,526.9M464.7,517.2L480.8,553.5M474.7,544.3L480.8,553.5L478.1,542.8M472.2,532.5L489.4,564.8M482.7,556.0L489.4,564.8L485.9,554.3M479.8,546.7L497.8,577.2M490.7,568.8L497.8,577.2L493.8,567.0M488.1,559.6L505.5,591.0M498.7,582.4L505.5,591.0L501.8,580.6M494.7,570.7L514.9,606.6M508.0,598.0L514.9,606.6L511.2,596.2M502.6,581.1L523.1,622.9M516.7,613.9L523.1,622.9L519.9,612.3M512.4,597.1L529.3,633.5M523.1,624.4L529.3,633.5L526.4,622.9M520.4,610.7L537.4,646.6M531.1,637.6L537.4,646.6L534.4,636.0M529.5,622.9L544.2,661.0M538.6,651.6L544.2,661.0L542.0,650.2M536.7,636.7L553.1,673.9M547.1,664.7L553.1,673.9L550.4,663.2M548.3,650.3L557.6,686.9M553.1,676.8L557.6,686.9L556.7,676.0M555.4,661.2L566.5,702.7M561.9,692.7L566.5,702.7L565.4,691.7M566.6,674.1L571.3,716.4M568.3,705.8L571.3,716.4L571.9,705.4M573.0,687.6L580.9,729.6M577.1,719.2L580.9,729.6L580.7,718.6M582.5,699.2L587.5,744.6M584.5,734.0L587.5,744.6L588.1,733.6M593.3,710.6L592.7,759.9M591.0,749.0L592.7,759.9L594.7,749.0M329.0,321.9L336.4,336.3M329.8,327.5L336.4,336.3L333.0,325.8M335.1,334.5L346.3,350.4M338.6,342.6L346.3,350.4L341.5,340.5M344.6,347.2L352.9,364.4M346.5,355.4L352.9,364.4L349.8,353.8M352.8,361.6L360.7,376.7M354.1,367.9L360.7,376.7L357.3,366.2M359.8,373.7L369.7,391.2M362.8,382.6L369.7,391.2L365.9,380.8M370.9,388.0L374.6,403.5M370.3,393.4L374.6,403.5L373.9,392.5M377.6,401.1L383.9,417.1M378.3,407.7L383.9,417.1L381.7,406.4M386.1,415.5L391.5,429.3M385.9,419.9L391.5,429.3L389.2,418.6M394.0,427.7L399.6,443.8M394.3,434.1L399.6,443.8L397.8,432.9M403.2,441.0L406.5,457.2M402.5,446.9L406.5,457.2L406.1,446.2M410.6,453.6L415.1,471.3M410.7,461.2L415.1,471.3L414.2,460.3M417.9,465.7L423.8,485.7M419.0,475.9L423.8,485.7L422.5,474.8M423.8,477.9L434.0,500.3M427.8,491.1L434.0,500.3L431.1,489.6M430.6,489.6L443.2,515.2M436.8,506.3L443.2,515.2L440.0,504.6M437.6,500.7L452.3,530.7M445.9,521.8L452.3,530.7L449.1,520.2M443.9,514.4L462.0,543.7M454.7,535.4L462.0,543.7L457.8,533.5M452.8,526.3L469.1,558.5M462.6,549.6L469.1,558.5L465.8,548.0M460.0,541.3L477.9,570.2M470.6,561.9L477.9,570.2L473.7,560.0M468.4,552.3L485.5,585.8M479.0,576.9L485.5,585.8L482.2,575.3M476.5,566.8L493.5,597.9M486.7,589.2L493.5,597.9L489.9,587.5M484.9,580.3L501.1,611.1M494.5,602.3L501.1,611.1L497.7,600.6M491.0,592.5L511.0,625.6M503.9,617.2L511.0,625.6L507.0,615.3M500.8,604.2L517.3,640.5M511.1,631.3L517.3,640.5L514.4,629.8M509.2,618.3L524.9,653.0M518.8,643.9L524.9,653.0L522.1,642.4M516.3,632.6L533.8,665.4M527.1,656.7L533.8,665.4L530.3,655.0M525.7,643.3L540.5,681.3M534.9,671.9L540.5,681.3L538.2,670.6M532.6,659.3L549.6,692.1M543.0,683.3L549.6,692.1L546.2,681.6M540.5,669.5L557.7,708.5M551.7,699.3L557.7,708.5L555.0,697.8M549.1,684.0L565.2,720.6M559.2,711.4L565.2,720.6L562.5,709.9M560.8,693.1L569.5,738.2M565.7,727.9L569.5,738.2L569.2,727.2M569.8,707.9L576.5,750.1M573.0,739.6L576.5,750.1L576.6,739.1M578.1,719.7L584.3,764.9M581.0,754.4L584.3,764.9L584.6,753.9M317.2,329.7L324.5,342.7M317.6,334.1L324.5,342.7L320.8,332.4M325.0,342.2L332.7,356.9M326.1,348.1L332.7,356.9L329.3,346.4M333.2,356.0L340.6,369.7M333.8,361.0L340.6,369.7L337.0,359.3M342.6,369.1L347.2,383.2M342.1,373.5L347.2,383.2L345.6,372.4M352.2,383.1L353.6,395.9M350.7,385.4L353.6,395.9L354.3,385.0M360.1,396.1L361.8,409.6M358.6,399.1L361.8,409.6L362.2,398.6M367.2,408.9L370.8,423.4M366.4,413.3L370.8,423.4L369.9,412.5M375.8,422.9L378.2,436.0M374.5,425.7L378.2,436.0L378.0,425.0M384.2,436.4L385.8,449.2M382.6,438.7L385.8,449.2L386.2,438.2M392.8,448.9L393.3,463.3M391.1,452.6L393.3,463.3L394.7,452.4M401.6,462.9L400.4,476.1M399.6,465.1L400.4,476.1L403.2,465.4M411.1,476.1L407.0,489.5M408.4,478.6L407.0,489.5L411.9,479.7M418.1,490.1L416.0,502.2M416.1,491.2L416.0,502.2L419.7,491.8M423.7,502.1L426.5,516.8M422.7,506.5L426.5,516.8L426.2,505.8M428.8,510.7L437.4,534.8M432.0,525.2L437.4,534.8L435.5,524.0M434.1,521.8L448.1,550.5M441.7,541.5L448.1,550.5L445.0,539.9M442.8,536.5L455.4,562.3M449.0,553.4L455.4,562.3L452.3,551.8M447.7,548.1L466.6,577.5M459.2,569.3L466.6,577.5L462.3,567.4M458.0,561.2L472.3,591.0M466.0,582.0L472.3,591.0L469.2,580.4M465.3,574.3L481.1,604.5M474.4,595.8L481.1,604.5L477.6,594.1M472.1,588.7L490.3,616.8M482.9,608.7L490.3,616.8L485.9,606.7M479.6,601.2L498.8,630.9M491.4,622.8L498.8,630.9L494.5,620.9M487.3,613.3L507.1,645.5M499.9,637.2L507.1,645.5L503.0,635.3M497.8,626.8L512.7,658.6M506.4,649.6L512.7,658.6L509.7,648.1M505.9,639.4L520.6,672.7M514.5,663.5L520.6,672.7L517.9,662.1M510.9,651.3L531.7,687.5M524.7,679.0L531.7,687.5L527.8,677.2M521.0,664.8L537.6,700.6M531.4,691.5L537.6,700.6L534.7,690.0M527.3,677.9L547.3,714.1M540.4,705.5L547.3,714.1L543.6,703.8M535.9,689.3L554.8,729.4M548.5,720.4L554.8,729.4L551.8,718.8M545.7,704.0L561.0,741.4M555.2,732.0L561.0,741.4L558.5,730.7M559.5,715.5L563.2,756.5M560.4,745.9L563.2,756.5L564.0,745.6M566.0,725.8L572.7,773.0M569.4,762.5L572.7,773.0L573.0,762.0M305.7,337.1L312.4,349.4M305.6,340.8L312.4,349.4L308.8,339.0M313.1,351.1L321.0,362.0M313.2,354.3L321.0,362.0L316.1,352.2M322.5,364.2L327.6,375.6M321.6,366.4L327.6,375.6L324.9,365.0M331.5,377.2L334.7,389.3M330.2,379.2L334.7,389.3L333.7,378.3M340.3,390.7L341.9,402.4M338.6,391.9L341.9,402.4L342.2,391.4M349.2,403.4L349.0,416.3M347.4,405.4L349.0,416.3L351.0,405.5M356.9,416.8L357.4,429.6M355.2,418.8L357.4,429.6L358.8,418.7M365.0,430.3L365.3,442.8M363.3,431.9L365.3,442.8L366.9,431.9M372.8,442.9L373.5,456.8M371.2,446.1L373.5,456.8L374.8,445.9M384.0,456.1L378.4,470.3M380.7,459.5L378.4,470.3L384.1,460.8M391.9,470.9L386.5,482.2M389.5,471.6L386.5,482.2L392.8,473.1M399.4,483.8L395.0,495.9M397.0,485.1L395.0,495.9L400.4,486.4M408.6,497.6L401.9,508.7M405.9,498.5L401.9,508.7L409.0,500.4M415.8,512.5L410.7,520.5M415.1,510.4L410.7,520.5L418.1,512.4M420.6,524.3L421.9,535.3M418.8,524.8L421.9,535.3L422.4,524.3M425.1,536.1L433.4,550.3M426.4,541.8L433.4,550.3L429.5,540.0M431.0,548.0L443.6,564.9M435.7,557.3L443.6,564.9L438.6,555.2M438.7,560.8L451.9,578.9M444.1,571.2L451.9,578.9L447.0,569.0M446.5,574.0L460.1,592.3M452.2,584.7L460.1,592.3L455.1,582.5M453.1,586.6L469.6,606.3M461.3,599.2L469.6,606.3L464.0,596.9M461.8,599.8L476.9,619.8M468.9,612.2L476.9,619.8L471.8,610.0M467.2,610.9L487.6,635.3M479.2,628.2L487.6,635.3L482.0,625.8M475.9,623.5L494.9,649.4M487.0,641.7L494.9,649.4L489.9,639.6M482.6,636.2L504.2,663.4M496.0,656.0L504.2,663.4L498.9,653.7M490.8,646.2L512.1,680.0M504.7,671.8L512.1,680.0L507.8,669.9M500.6,657.0L518.3,695.9M512.2,686.8L518.3,695.9L515.5,685.2M508.0,673.8L527.0,705.7M519.8,697.3L527.0,705.7L523.0,695.5M515.5,685.5L535.4,720.7M528.5,712.1L535.4,720.7L531.7,710.3M526.0,697.8L541.0,735.0M535.3,725.7L541.0,735.0L538.6,724.3M532.4,712.3L550.6,747.2M544.0,738.4L550.6,747.2L547.2,736.7M541.7,724.1L557.3,762.1M551.5,752.7L557.3,762.1L554.9,751.4M552.4,735.2L562.7,777.6M558.3,767.5L562.7,777.6L561.9,766.6M294.3,344.9L300.1,355.7M293.4,347.0L300.1,355.7L296.6,345.3M302.2,358.1L308.3,369.1M301.5,360.5L308.3,369.1L304.6,358.8M310.5,371.7L316.0,382.2M309.4,373.4L316.0,382.2L312.6,371.7M320.7,385.7L321.9,394.8M318.7,384.3L321.9,394.8L322.3,383.8M329.9,398.6L328.7,408.6M328.1,397.7L328.7,408.6L331.7,398.1M338.4,410.8L336.2,423.0M336.4,412.0L336.2,423.0L339.9,412.7M347.8,424.4L342.8,436.2M345.4,425.5L342.8,436.2L348.7,426.9M355.6,436.9L351.1,450.2M352.8,439.4L351.1,450.2L356.3,440.6M364.2,450.0L358.5,463.8M361.0,453.1L358.5,463.8L364.3,454.5M373.4,462.8L365.4,477.7M368.9,467.3L365.4,477.7L372.1,469.0M381.2,477.9L373.6,489.2M378.1,479.2L373.6,489.2L381.1,481.2M389.8,490.6L381.0,503.2M385.8,493.2L381.0,503.2L388.7,495.3M397.7,506.7L389.1,513.8M396.4,505.5L389.1,513.8L398.7,508.3M405.0,520.3L397.9,526.8M404.6,518.1L397.9,526.8L407.1,520.8M409.6,533.5L409.3,540.2M407.9,529.3L409.3,540.2L411.5,529.5M412.1,546.2L422.8,554.3M413.1,549.2L422.8,554.3L415.3,546.3M419.5,558.5L431.4,568.6M422.0,563.0L431.4,568.6L424.3,560.2M427.8,570.5L439.2,583.2M430.6,576.3L439.2,583.2L433.3,573.9M434.8,584.1L448.2,596.3M439.0,590.3L448.2,596.3L441.4,587.6M442.9,595.5L456.2,611.6M447.9,604.4L456.2,611.6L450.7,602.1M449.4,607.6L465.7,626.2M457.2,619.2L465.7,626.2L459.9,616.8M456.5,621.9L474.6,638.5M465.4,632.5L474.6,638.5L467.8,629.8M463.1,635.0L484.0,652.0M474.5,646.6L484.0,652.0L476.7,643.7M470.7,645.5L492.5,668.2M483.7,661.7L492.5,668.2L486.3,659.1M480.9,656.9L498.3,683.4M490.9,675.4L498.3,683.4L493.9,673.4M487.2,669.2L508.0,697.7M500.1,690.0L508.0,697.7L503.1,687.9M497.4,680.8L513.9,712.8M507.3,704.0L513.9,712.8L510.5,702.4M504.9,694.3L522.4,726.0M515.6,717.4L522.4,726.0L518.7,715.6M514.3,705.3L529.1,741.6M523.3,732.3L529.1,741.6L526.6,730.9M520.4,720.6L538.9,753.0M532.0,744.5L538.9,753.0L535.1,742.7M528.8,732.2L546.6,768.1M540.1,759.2L546.6,768.1L543.4,757.6M539.1,746.3L552.4,780.6M546.8,771.2L552.4,780.6L550.1,769.8M283.7,352.0L287.1,362.7M282.1,352.9L287.1,362.7L285.5,351.8M290.9,365.6L296.0,375.8M289.5,366.9L296.0,375.8L292.8,365.3M299.0,378.4L303.8,389.6M297.9,380.3L303.8,389.6L301.2,378.9M308.5,391.9L310.5,402.8M306.7,392.4L310.5,402.8L310.3,391.8M318.7,405.0L316.2,416.3M316.8,405.3L316.2,416.3L320.3,406.1M327.6,417.4L323.3,430.6M325.0,419.7L323.3,430.6L328.4,420.8M336.2,431.1L330.8,443.5M333.5,432.8L330.8,443.5L336.8,434.3M344.4,444.9L338.6,456.4M341.9,445.9L338.6,456.4L345.1,447.5M351.9,455.8L347.1,472.2M348.4,461.2L347.1,472.2L351.9,462.3M360.7,469.4L354.4,485.2M356.7,474.4L354.4,485.2L360.1,475.8M369.3,484.2L361.8,497.0M365.7,486.7L361.8,497.0L368.9,488.6M377.7,498.3L369.4,509.6M374.4,499.8L369.4,509.6L377.3,501.9M385.0,513.0L378.1,521.6M383.6,512.0L378.1,521.6L386.4,514.3M393.5,527.4L385.7,533.8M393.0,525.5L385.7,533.8L395.3,528.3M394.4,541.3L400.8,546.6M391.3,541.0L400.8,546.6L393.7,538.3M398.7,554.9L412.6,559.6M401.8,557.9L412.6,559.6L402.9,554.4M406.9,568.1L420.5,573.1M409.6,571.1L420.5,573.1L410.9,567.7M415.2,577.6L428.2,590.2M419.1,584.0L428.2,590.2L421.6,581.4M423.2,591.7L436.1,602.8M426.7,597.1L436.1,602.8L429.1,594.4M429.6,602.2L445.9,618.9M437.0,612.4L445.9,618.9L439.6,609.9M437.2,616.1L454.3,631.7M445.0,625.8L454.3,631.7L447.5,623.1M442.0,627.6L465.5,646.9M456.0,641.4L465.5,646.9L458.3,638.6M450.9,642.8L472.6,658.3M462.7,653.5L472.6,658.3L464.8,650.5M459.8,652.5L479.7,675.3M471.2,668.3L479.7,675.3L473.9,665.9M469.3,663.5L486.2,691.0M479.0,682.7L486.2,691.0L482.1,680.8M477.9,677.7L493.7,703.4M486.4,695.1L493.7,703.4L489.5,693.2M485.8,690.1L501.8,717.6M494.8,709.2L501.8,717.6L497.9,707.4M492.8,701.3L510.9,733.1M503.9,724.6L510.9,733.1L507.1,722.8M503.3,715.1L516.4,745.9M510.5,736.6L516.4,745.9L513.8,735.2M509.0,727.5L526.8,760.3M520.0,751.6L526.8,760.3L523.2,749.9M517.8,739.9L533.9,774.4M527.7,765.4L533.9,774.4L531.0,763.8M525.3,754.5L542.5,786.5M535.7,777.8L542.5,786.5L538.9,776.1M273.3,358.4L273.9,370.4M271.5,359.6L273.9,370.4L275.1,359.4M279.8,372.3L283.4,383.1M278.3,373.4L283.4,383.1L281.7,372.2M287.8,386.1L291.4,396.1M286.0,386.5L291.4,396.1L289.5,385.2M297.2,399.4L298.0,409.4M295.4,398.7L298.0,409.4L299.0,398.4M308.1,418.9L303.2,416.6M313.8,419.5L303.2,416.6L312.2,422.8M315.9,429.8L311.4,432.3M320.0,425.4L311.4,432.3L321.8,428.6M324.3,440.3L319.1,448.5M323.4,438.3L319.1,448.5L326.4,440.2M331.9,454.3L327.5,461.1M331.8,451.0L327.5,461.1L334.9,452.9M340.5,463.5L334.9,478.5M337.0,467.7L334.9,478.5L340.4,469.0M348.0,476.5L343.5,492.2M344.7,481.3L343.5,492.2L348.2,482.3M356.5,492.9L351.0,502.5M354.8,492.2L351.0,502.5L358.0,494.0M365.1,506.0L358.4,516.0M362.9,506.0L358.4,516.0L366.0,508.0M371.9,520.7L367.6,528.0M371.6,517.7L367.6,528.0L374.7,519.5M378.1,535.3L377.5,540.1M376.9,529.1L377.5,540.1L380.5,529.5M380.3,549.1L391.3,552.8M380.5,551.1L391.3,552.8L381.6,547.7M386.7,562.4L400.9,566.3M390.0,565.1L400.9,566.3L390.9,561.6M395.3,575.2L408.3,580.1M397.5,578.0L408.3,580.1L398.8,574.6M403.3,586.8L416.4,595.2M406.3,590.8L416.4,595.2L408.2,587.8M410.5,598.7L425.2,609.9M415.5,604.8L425.2,609.9L417.7,601.9M416.8,611.7L434.9,623.5M424.9,619.1L434.9,623.5L426.8,616.1M422.3,623.3L445.5,638.7M435.4,634.2L445.5,638.7L437.4,631.1M431.2,635.9L452.6,652.7M443.0,647.4L452.6,652.7L445.2,644.6M436.8,647.8L463.1,667.4M453.3,662.4L463.1,667.4L455.5,659.5M444.5,659.9L471.4,682.0M461.9,676.5L471.4,682.0L464.2,673.7M455.3,671.0L476.6,697.6M468.4,690.2L476.6,697.6L471.2,688.0M464.2,683.7L483.7,711.5M476.0,703.7L483.7,711.5L479.0,701.6M474.2,698.0L489.8,723.9M482.6,715.5L489.8,723.9L485.8,713.7M482.3,708.2L497.7,740.3M491.4,731.3L497.7,740.3L494.7,729.8M489.6,723.6L506.5,751.6M499.3,743.3L506.5,751.6L502.4,741.4M499.6,736.3L512.5,765.5M506.4,756.3L512.5,765.5L509.8,754.8M507.7,748.7L520.4,779.8M514.6,770.5L520.4,779.8L518.0,769.1M515.7,762.4L528.4,792.7M522.6,783.4L528.4,792.7L525.9,782.0M262.8,368.5L260.8,374.4M262.6,363.5L260.8,374.4L266.0,364.7M271.8,385.5L267.8,384.1M278.6,386.0L267.8,384.1L277.4,389.4M278.9,398.3L276.7,397.9M287.7,397.9L276.7,397.9L287.1,401.4M290.4,418.5L281.2,404.4M288.7,412.5L281.2,404.4L285.6,414.5M298.9,432.7L288.8,416.8M296.1,425.0L288.8,416.8L293.0,426.9M305.1,443.1L298.6,433.1M306.0,441.2L298.6,433.1L303.0,443.2M311.7,458.4L308.1,444.4M312.5,454.5L308.1,444.4L309.0,455.4M317.8,474.1L318.0,455.4M319.7,466.3L318.0,455.4L316.0,466.2M326.4,479.6L325.4,476.6M330.4,486.3L325.4,476.6L327.0,487.4M334.9,490.4L332.9,492.4M339.2,483.4L332.9,492.4L341.8,485.9M344.7,500.2L339.1,509.3M343.3,499.1L339.1,509.3L346.4,501.0M352.5,512.8L347.3,523.3M350.5,512.8L347.3,523.3L353.8,514.4M357.4,530.4L358.5,532.3M351.5,523.9L358.5,532.3L354.6,522.1M362.6,544.6L369.4,544.8M358.5,546.4L369.4,544.8L358.6,542.7M367.4,556.9L380.6,559.2M369.6,559.1L380.6,559.2L370.2,555.6M374.3,570.5L389.7,572.3M378.8,572.8L389.7,572.3L379.2,569.2M382.8,583.1L397.3,586.3M386.3,585.8L397.3,586.3L387.1,582.2M390.7,595.0L405.4,601.1M394.6,598.6L405.4,601.1L396.0,595.2M398.3,607.9L413.8,614.8M403.1,612.0L413.8,614.8L404.6,608.7M401.2,619.2L426.9,630.2M416.3,627.6L426.9,630.2L417.7,624.3M405.4,630.7L438.7,645.4M428.1,642.7L438.7,645.4L429.6,639.3M414.7,645.3L445.5,657.3M434.7,655.1L445.5,657.3L436.1,651.7M422.9,657.9L453.3,671.5M442.7,668.7L453.3,671.5L444.2,665.4M430.6,668.8L461.7,687.2M451.4,683.3L461.7,687.2L453.3,680.1M440.9,679.8L467.4,702.9M458.0,697.1L467.4,702.9L460.4,694.4M451.9,693.6L472.4,715.7M463.7,709.0L472.4,715.7L466.4,706.5M461.2,706.5L479.1,729.5M471.0,722.0L479.1,729.5L473.9,719.8M469.0,718.2L487.3,744.5M479.6,736.6L487.3,744.5L482.6,734.5M477.8,730.6L494.6,758.7M487.5,750.3L494.6,758.7L490.6,748.5M485.9,743.2L502.6,772.7M495.6,764.2L502.6,772.7L498.8,762.4M495.3,757.4L509.1,785.2M502.7,776.3L509.1,785.2L505.9,774.7M503.2,770.6L517.3,798.6M510.8,789.7L517.3,798.6L514.0,788.1M258.6,390.4L242.1,368.0M250.0,375.7L242.1,368.0L247.1,377.9M265.3,402.3L250.6,381.3M258.3,389.2L250.6,381.3L255.3,391.3M275.0,417.2L256.9,393.2M264.9,400.7L256.9,393.2L262.0,402.9M281.6,432.9L266.4,404.0M273.1,412.8L266.4,404.0L269.8,414.5M287.2,441.3L276.8,422.4M283.6,431.0L276.8,422.4L280.5,432.8M297.0,456.5L283.0,433.8M290.3,442.1L283.0,433.8L287.2,444.0M298.3,469.4L297.7,447.6M299.9,458.4L297.7,447.6L296.2,458.5M304.3,483.6L307.8,460.0M308.0,471.0L307.8,460.0L304.4,470.5M310.9,495.1L317.2,475.2M315.7,486.1L317.2,475.2L312.2,485.0M319.6,508.5L324.6,488.4M323.7,499.4L324.6,488.4L320.2,498.5M329.4,514.3L330.8,509.3M329.6,520.2L330.8,509.3L326.1,519.2M335.2,527.7L341.0,522.5M334.1,531.1L341.0,522.5L331.7,528.4M341.6,543.6L350.7,533.3M344.8,542.6L350.7,533.3L342.1,540.2M349.0,555.2L359.3,548.4M351.2,555.9L359.3,548.4L349.2,552.8M354.9,564.9L369.4,565.3M358.5,566.8L369.4,565.3L358.6,563.2M362.1,578.9L378.3,577.9M367.6,580.4L378.3,577.9L367.4,576.8M369.9,591.8L386.4,591.7M375.6,593.6L386.4,591.7L375.6,590.0M378.7,602.0L393.7,608.2M383.0,605.7L393.7,608.2L384.4,602.4M385.8,615.9L402.7,620.9M391.8,619.6L402.7,620.9L392.8,616.1M386.5,629.6L418.0,633.9M407.0,634.2L418.0,633.9L407.5,630.6M393.3,637.3L427.2,652.8M416.6,650.0L427.2,652.8L418.1,646.7M399.9,652.7L436.7,664.1M425.8,662.6L436.7,664.1L426.9,659.2M410.8,662.8L441.7,680.7M431.4,676.8L441.7,680.7L433.3,673.7M418.9,675.5L449.7,694.6M439.6,690.5L449.7,694.6L441.5,687.4M428.1,690.5L456.6,706.2M446.2,702.6L456.6,706.2L447.9,699.4M437.7,703.5L463.0,719.9M452.9,715.5L463.0,719.9L454.9,712.5M445.5,714.9L471.2,735.2M461.6,729.9L471.2,735.2L463.8,727.0M456.9,724.9L475.8,751.8M468.1,744.0L475.8,751.8L471.1,741.9M467.3,737.8L481.4,765.5M474.9,756.7L481.4,765.5L478.1,755.0M475.3,751.3L489.5,778.8M482.9,770.0L489.5,778.8L486.2,768.3M484.4,764.9L496.4,791.8M490.3,782.7L496.4,791.8L493.7,781.2M491.0,778.9L505.8,804.5M498.8,796.0L505.8,804.5L502.0,794.2M245.4,399.0L232.1,374.1M238.8,382.8L232.1,374.1L235.6,384.5M254.0,413.2L238.3,384.6M245.1,393.2L238.3,384.6L241.9,395.0M264.4,426.9L243.9,397.5M251.6,405.4L243.9,397.5L248.6,407.5M272.5,443.5L251.9,407.6M258.8,416.1L251.9,407.6L255.7,417.9M275.8,451.0L264.6,426.8M270.8,435.9L264.6,426.8L267.5,437.4M282.7,464.1L273.7,440.3M279.2,449.8L273.7,440.3L275.9,451.1M287.1,479.0L285.3,452.0M287.8,462.7L285.3,452.0L284.2,463.0M292.8,492.5L295.7,465.2M296.3,476.2L295.7,465.2L292.7,475.8M299.1,503.3L305.4,481.1M304.2,492.0L305.4,481.1L300.7,491.0M307.2,516.0L313.3,495.1M312.0,506.0L313.3,495.1L308.5,505.0M314.3,525.7L322.3,512.0M318.4,522.3L322.3,512.0L315.2,520.4M321.0,537.5L331.6,526.9M325.2,535.8L331.6,526.9L322.6,533.3M329.4,550.3L339.3,540.7M332.7,549.6L339.3,540.7L330.2,546.9M336.3,563.3L348.4,554.3M340.7,562.3L348.4,554.3L338.6,559.3M342.2,574.3L358.5,570.1M348.4,574.5L358.5,570.1L347.5,571.0M351.0,586.6L365.7,584.3M355.3,587.8L365.7,584.3L354.7,584.2M357.9,600.9L374.8,596.7M364.7,601.1L374.8,596.7L363.9,597.6M365.6,611.8L383.2,612.5M372.3,613.9L383.2,612.5L372.4,610.2M368.6,624.8L396.2,626.2M385.3,627.4L396.2,626.2L385.5,623.8M373.2,636.1L407.6,641.5M396.6,641.6L407.6,641.5L397.2,638.0M381.1,647.9L415.7,656.3M404.8,655.5L415.7,656.3L405.6,652.0M389.1,661.1L423.8,669.8M412.9,668.9L423.8,669.8L413.7,665.4M397.3,672.2L431.7,685.3M420.9,683.2L431.7,685.3L422.2,679.8M406.2,683.0L438.7,701.2M428.4,697.5L438.7,701.2L430.2,694.3M414.7,697.4L446.3,713.5M435.8,710.2L446.3,713.5L437.4,706.9M424.3,708.1L452.7,729.5M443.0,724.4L452.7,729.5L445.2,721.5M433.1,724.5L460.0,739.6M449.6,735.9L460.0,739.6L451.4,732.7M443.5,737.2L465.5,753.6M455.8,748.6L465.5,753.6L457.9,745.7M454.3,746.2L470.9,771.3M463.4,763.3L470.9,771.3L466.4,761.3M464.0,758.6L477.1,785.6M470.8,776.6L477.1,785.6L474.0,775.0M473.0,772.8L484.1,798.1M478.1,788.9L484.1,798.1L481.4,787.4M479.9,787.2L493.3,810.2M486.3,801.8L493.3,810.2L489.4,799.9M238.0,412.6L219.9,381.4M226.9,389.9L219.9,381.4L223.8,391.7M245.7,422.3L222.9,389.5M230.6,397.4L222.9,389.5L227.6,399.5M253.5,433.9L231.2,404.6M239.2,412.2L231.2,404.6L236.3,414.4M260.7,448.4L240.0,416.8M247.5,424.9L240.0,416.8L244.4,426.9M264.0,459.0L252.7,432.8M258.7,442.1L252.7,432.8L255.3,443.5M267.4,472.7L265.4,445.8M268.0,456.5L265.4,445.8L264.4,456.8M273.5,486.5L275.3,458.7M276.4,469.6L275.3,458.7L272.8,469.4M282.5,499.6L282.3,472.3M284.2,483.1L282.3,472.3L280.6,483.1M287.1,511.6L293.8,486.8M292.7,497.8L293.8,486.8L289.2,496.8M295.3,523.2L301.6,501.9M300.3,512.8L301.6,501.9L296.8,511.8M301.6,532.3L311.3,519.5M306.2,529.2L311.3,519.5L303.3,527.0M308.1,544.4L320.8,534.1M313.6,542.3L320.8,534.1L311.3,539.5M316.2,557.6L328.8,547.5M321.5,555.7L328.8,547.5L319.2,552.9M323.9,570.8L337.1,561.0M329.5,568.9L337.1,561.0L327.3,566.0M330.1,583.0L347.0,575.4M337.8,581.5L347.0,575.4L336.3,578.2M338.7,595.9L354.3,589.2M345.1,595.1L354.3,589.2L343.6,591.8M345.9,608.1L363.2,603.6M353.2,608.1L363.2,603.6L352.3,604.6M352.2,621.3L372.9,617.1M362.7,621.0L372.9,617.1L361.9,617.5M353.8,631.5L387.4,633.5M376.4,634.7L387.4,633.5L376.7,631.1M360.3,644.6L396.9,647.1M385.9,648.2L396.9,647.1L386.2,644.6M368.8,658.4L404.4,659.9M393.5,661.3L404.4,659.9L393.6,657.7M376.4,669.4L412.9,675.6M401.9,675.6L412.9,675.6L402.5,672.0M385.0,681.3L420.3,690.4M409.4,689.4L420.3,690.4L410.3,685.9M392.6,694.2L428.7,704.1M417.8,703.0L428.7,704.1L418.7,699.5M403.9,703.2L433.5,721.7M423.3,717.5L433.5,721.7L425.2,714.4M413.2,716.8L440.2,734.9M430.2,730.3L440.2,734.9L432.2,727.3M421.2,731.2L448.3,747.1M438.0,743.2L448.3,747.1L439.8,740.1M432.1,744.2L453.4,760.7M443.7,755.5L453.4,760.7L445.9,752.6M442.3,756.4L459.1,775.2M450.5,768.3L459.1,775.2L453.3,765.9M451.7,767.7L465.8,790.6M458.6,782.3L465.8,790.6L461.7,780.4M461.7,779.1L471.8,805.8M466.3,796.3L471.8,805.8L469.7,795.0M467.8,792.5L481.8,819.0M475.1,810.3L481.8,819.0L478.3,808.6M228.3,419.9L206.7,389.4M214.4,397.2L206.7,389.4L211.5,399.3M233.5,430.4L211.5,395.6M218.8,403.8L211.5,395.6L215.8,405.7M240.8,444.5L220.2,408.2M227.1,416.7L220.2,408.2L224.0,418.5M249.7,456.5L227.3,422.8M234.9,430.8L227.3,422.8L231.8,432.8M252.1,467.6L241.0,438.3M246.5,447.8L241.0,438.3L243.1,449.1M256.7,480.8L252.4,451.8M255.8,462.2L252.4,451.8L252.2,462.8M263.8,493.4L261.3,465.9M264.1,476.5L261.3,465.9L260.5,476.9M267.6,505.2L273.6,480.7M272.8,491.7L273.6,480.7L269.2,490.8M275.5,518.4L281.7,494.1M280.8,505.1L281.7,494.1L277.3,504.2M282.0,529.8L291.2,509.5M288.4,520.1L291.2,509.5L285.1,518.6M289.6,540.1L299.7,525.8M294.9,535.7L299.7,525.8L292.0,533.6M295.6,552.4L309.7,540.2M302.7,548.6L309.7,540.2L300.3,545.9M304.6,565.4L316.7,553.8M310.1,562.6L316.7,553.8L307.6,560.0M311.6,577.7L325.7,568.1M317.8,575.7L325.7,568.1L315.8,572.7M319.5,590.7L333.9,581.8M325.7,589.0L333.9,581.8L323.7,586.0M327.1,603.0L342.4,596.2M333.2,602.3L342.4,596.2L331.7,598.9M332.0,616.8L353.5,609.0M343.9,614.4L353.5,609.0L342.7,611.0M337.8,631.5L363.7,621.0M354.3,626.8L363.7,621.0L352.9,623.4M343.2,641.9L374.3,637.3M363.8,640.7L374.3,637.3L363.3,637.1M347.7,650.6L385.9,655.2M374.9,655.7L385.9,655.2L375.4,652.1M355.1,664.4L394.5,668.0M383.5,668.9L394.5,668.0L383.9,665.2M362.8,679.4L402.8,679.7M392.0,681.4L402.8,679.7L392.0,677.8M374.2,688.8L407.4,696.9M396.4,696.1L407.4,696.9L397.3,692.6M383.0,701.0L414.7,711.4M403.8,709.7L414.7,711.4L404.9,706.3M390.4,713.6L423.3,725.5M412.5,723.5L423.3,725.5L413.7,720.1M401.0,725.2L428.8,740.5M418.4,736.9L428.8,740.5L420.2,733.7M410.0,739.1L435.8,753.3M425.4,749.7L435.8,753.3L427.2,746.5M418.1,752.5L443.7,766.5M433.3,762.9L443.7,766.5L435.0,759.7M427.0,764.7L450.8,781.0M440.8,776.4L450.8,781.0L442.9,773.4M438.3,776.2L455.6,796.1M447.1,789.1L455.6,796.1L449.8,786.8M446.1,788.8L463.8,810.3M455.5,803.0L463.8,810.3L458.3,800.7M455.3,802.7L470.6,823.0M462.6,815.4L470.6,823.0L465.5,813.2M216.1,429.9L196.5,395.5M203.4,404.0L196.5,395.5L200.3,405.8M221.0,438.5L200.3,401.6M207.2,410.1L200.3,401.6L204.0,411.9M228.6,451.9L208.7,414.9M215.5,423.6L208.7,414.9L212.3,425.3M237.0,464.3L216.4,429.1M223.4,437.5L216.4,429.1L220.3,439.4M240.2,474.5L229.2,445.6M234.8,455.1L229.2,445.6L231.4,456.3M247.1,486.8L238.4,459.9M243.5,469.7L238.4,459.9L240.0,470.8M248.9,499.2L252.6,474.1M252.8,485.1L252.6,474.1L249.2,484.6M255.7,510.5L261.9,489.5M260.5,500.4L261.9,489.5L257.1,499.4M263.1,524.3L270.4,502.4M268.7,513.3L270.4,502.4L265.3,512.1M269.0,534.9L280.6,518.5M275.8,528.4L280.6,518.5L272.8,526.3M275.6,547.4L290.0,532.6M283.8,541.6L290.0,532.6L281.2,539.1M283.6,560.4L298.0,546.3M291.6,555.2L298.0,546.3L289.0,552.6M291.3,572.6L306.4,560.7M299.0,568.9L306.4,560.7L296.7,566.0M298.8,587.2L314.9,572.7M308.1,581.3L314.9,572.7L305.6,578.7M308.0,600.2L321.7,586.5M315.3,595.4L321.7,586.5L312.8,592.9M314.4,613.2L331.4,600.1M323.9,608.2L331.4,600.1L321.7,605.3M318.4,625.4L343.4,614.5M334.2,620.5L343.4,614.5L332.7,617.2M322.3,640.5L355.5,626.1M346.3,632.1L355.5,626.1L344.9,628.8M327.8,650.8L366.0,642.4M355.8,646.5L366.0,642.4L355.0,643.0M335.2,661.9L374.7,658.0M364.1,660.9L374.7,658.0L363.7,657.3M343.2,672.0L382.7,674.5M371.8,675.7L382.7,674.5L372.0,672.0M350.7,686.8L391.3,686.4M380.5,688.3L391.3,686.4L380.5,684.7M361.2,698.9L396.8,700.9M385.8,702.1L396.8,700.9L386.0,698.5M369.7,710.0L404.3,716.5M393.3,716.3L404.3,716.5L394.0,712.7M377.9,725.5L412.1,727.7M401.2,728.8L412.1,727.7L401.4,725.2M389.5,736.7L416.6,743.2M405.6,742.4L416.6,743.2L406.5,738.9M397.5,748.5L424.7,758.0M413.8,756.1L424.7,758.0L415.0,752.7M406.6,759.8L431.6,773.3M421.2,769.8L431.6,773.3L422.9,766.6M414.8,772.1L439.4,787.7M429.3,783.4L439.4,787.7L431.2,780.4M425.3,785.0L445.0,801.5M435.5,795.9L445.0,801.5L437.8,793.2M432.3,797.8L453.9,815.3M444.4,809.9L453.9,815.3L446.6,807.1M442.5,810.9L459.8,828.9M451.0,822.4L459.8,828.9L453.6,819.8M203.8,433.1L183.3,403.4M190.9,411.3L183.3,403.4L187.9,413.4M209.6,443.5L188.1,410.7M195.6,418.8L188.1,410.7L192.6,420.8M218.1,456.8L195.6,424.0M203.2,431.9L195.6,424.0L200.2,434.0M222.2,469.5L207.6,438.0M213.8,447.1L207.6,438.0L210.5,448.6M230.4,482.1L215.4,452.1M221.9,461.0L215.4,452.1L218.6,462.6M235.2,494.8L226.7,466.1M231.5,475.9L226.7,466.1L228.0,477.0M237.5,505.6L240.4,481.9M240.9,492.9L240.4,481.9L237.3,492.5M243.2,518.4L250.7,495.7M249.0,506.6L250.7,495.7L245.6,505.5M250.1,529.0L259.8,511.8M256.1,522.1L259.8,511.8L252.9,520.3M256.8,540.7L269.1,526.7M263.3,536.1L269.1,526.7L260.6,533.7M264.1,553.7L277.9,540.4M271.4,549.2L277.9,540.4L268.8,546.6M271.4,566.2L286.6,554.6M279.1,562.6L286.6,554.6L276.9,559.7M280.0,580.2L294.0,567.2M287.3,575.9L294.0,567.2L284.8,573.3M288.0,593.7L302.1,580.3M295.5,589.1L302.1,580.3L293.0,586.5M296.3,608.1L309.8,592.6M304.0,602.0L309.8,592.6L301.3,599.6M303.3,620.1L318.9,607.3M311.6,615.6L318.9,607.3L309.3,612.8M303.8,633.8L334.4,620.2M325.2,626.3L334.4,620.2L323.8,623.0M306.8,647.2L347.4,633.5M337.7,638.7L347.4,633.5L336.5,635.2M315.4,657.8L354.9,649.6M344.6,653.6L354.9,649.6L343.9,650.0M321.4,669.8L364.8,664.2M354.3,667.4L364.8,664.2L353.9,663.8M330.4,683.6L371.9,677.1M361.5,680.5L371.9,677.1L360.9,677.0M339.9,693.1L378.4,694.2M367.5,695.7L378.4,694.2L367.6,692.1M349.3,708.2L385.0,705.8M374.3,708.3L385.0,705.8L374.1,704.7M360.4,719.4L390.0,721.2M379.1,722.4L390.0,721.2L379.3,718.7M366.0,734.1L400.4,733.2M389.6,735.3L400.4,733.2L389.5,731.7M377.1,744.0L405.3,750.0M394.3,749.5L405.3,750.0L395.1,745.9M385.8,756.6L412.7,764.0M401.8,762.9L412.7,764.0L402.8,759.4M393.7,767.8L420.8,779.5M410.1,776.8L420.8,779.5L411.6,773.5M404.2,782.1L426.4,791.8M415.7,789.1L426.4,791.8L417.1,785.8M413.4,793.3L433.1,807.3M423.2,802.5L433.1,807.3L425.3,799.5M421.1,807.9L441.5,819.3M431.2,815.6L441.5,819.3L432.9,812.4M430.3,822.2L448.4,831.7M437.9,828.3L448.4,831.7L439.6,825.0M191.0,441.4L172.7,409.8M179.7,418.3L172.7,409.8L176.6,420.1M196.6,451.6L177.5,416.7M184.3,425.4L177.5,416.7L181.1,427.1M205.2,463.2L184.9,431.8M192.3,439.9L184.9,431.8L189.3,441.9M211.3,476.5L194.8,445.1M201.5,453.9L194.8,445.1L198.3,455.6M219.0,489.7L203.1,458.6M209.7,467.4L203.1,458.6L206.4,469.1M222.5,500.3L215.7,474.6M220.2,484.7L215.7,474.6L216.7,485.6M226.9,511.7L227.3,489.9M228.9,500.8L227.3,489.9L225.3,500.7M232.5,523.9L237.8,504.4M236.7,515.3L237.8,504.4L233.2,514.4M238.1,535.4L248.1,519.5M243.9,529.7L248.1,519.5L240.8,527.7M244.8,548.3L257.5,533.2M251.9,542.7L257.5,533.2L249.2,540.3M252.2,561.8L266.1,546.4M260.2,555.7L266.1,546.4L257.5,553.3M260.2,575.0L274.2,559.8M268.2,569.1L274.2,559.8L265.5,566.6M267.8,587.4L282.6,574.1M275.8,582.7L282.6,574.1L273.3,580.0M275.1,600.9L291.4,587.3M284.2,595.6L291.4,587.3L281.9,592.9M283.8,614.0L298.7,600.8M291.8,609.4L298.7,600.8L289.4,606.6M289.8,625.7L308.7,615.8M299.9,622.4L308.7,615.8L298.2,619.2M290.1,639.9L324.5,628.3M314.8,633.5L324.5,628.3L313.6,630.0M296.0,655.4L334.5,639.4M325.2,645.2L334.5,639.4L323.8,641.9M301.8,665.0L344.8,656.5M334.5,660.4L344.8,656.5L333.8,656.8M310.4,679.3L352.2,668.8M342.1,673.2L352.2,668.8L341.2,669.7M322.1,690.3L356.5,684.5M346.1,688.1L356.5,684.5L345.5,684.5M331.3,700.8L363.4,700.6M352.6,702.5L363.4,700.6L352.6,698.9M338.7,715.1L372.0,713.0M361.3,715.5L372.0,713.0L361.1,711.9M346.9,729.3L379.8,725.4M369.2,728.5L379.8,725.4L368.8,724.9M356.2,741.8L386.6,739.6M375.9,742.2L386.6,739.6L375.6,738.6M364.3,754.6L394.5,753.5M383.8,755.7L394.5,753.5L383.6,752.1M373.6,767.5L401.2,767.2M390.4,769.1L401.2,767.2L390.4,765.5M382.1,780.5L408.8,780.9M397.9,782.5L408.8,780.9L397.9,778.9M392.8,794.0L414.1,794.0M403.3,795.8L414.1,794.0L403.3,792.2M402.6,807.5L420.4,807.2M409.5,809.2L420.4,807.2L409.5,805.6M412.6,822.0L426.3,819.4M416.0,823.2L426.3,819.4L415.3,819.6M419.4,834.3L435.6,833.7M424.8,835.9L435.6,833.7L424.7,832.3" stroke="#000" stroke-width="1" fill="none" shape-rendering="crispEdges"/></g>
<polygon points="502.0,210.0 171.0,407.5 427.5,834.0 758.5,636.5" fill="none" stroke="#000" stroke-width="2" stroke-linejoin="miter" shape-rendering="crispEdges"/>
<path d="M590,311.5H634M622,308.5L634,311.5L622,314" stroke="#000" stroke-width="1" fill="none" shape-rendering="crispEdges"/>
<g opacity="0.999"><text x="589" y="346" font-size="25.3" style="stroke:#db9471;stroke-width:1px">40 cm/s</text></g>
<rect x="779" y="209.50" width="61" height="32.87" fill="rgb(150,0,0)" shape-rendering="crispEdges"/>
<rect x="779" y="241.87" width="61" height="31.87" fill="rgb(192,0,0)" shape-rendering="crispEdges"/>
<rect x="779" y="273.24" width="61" height="31.87" fill="rgb(230,0,0)" shape-rendering="crispEdges"/>
<rect x="779" y="304.61" width="61" height="31.87" fill="rgb(255,60,10)" shape-rendering="crispEdges"/>
<rect x="779" y="335.98" width="61" height="31.87" fill="rgb(255,120,64)" shape-rendering="crispEdges"/>
<rect x="779" y="367.35" width="61" height="31.87" fill="rgb(255,150,36)" shape-rendering="crispEdges"/>
<rect x="779" y="398.72" width="61" height="31.87" fill="rgb(255,192,0)" shape-rendering="crispEdges"/>
<rect x="779" y="430.09" width="61" height="31.87" fill="rgb(240,255,96)" shape-rendering="crispEdges"/>
<rect x="779" y="461.46" width="61" height="31.87" fill="rgb(190,255,96)" shape-rendering="crispEdges"/>
<rect x="779" y="492.83" width="61" height="31.87" fill="rgb(0,230,0)" shape-rendering="crispEdges"/>
<rect x="779" y="524.20" width="61" height="31.87" fill="rgb(0,240,150)" shape-rendering="crispEdges"/>
<rect x="779" y="555.57" width="61" height="31.87" fill="rgb(0,240,210)" shape-rendering="crispEdges"/>
<rect x="779" y="586.94" width="61" height="31.87" fill="rgb(0,255,255)" shape-rendering="crispEdges"/>
<rect x="779" y="618.31" width="61" height="31.87" fill="rgb(0,225,250)" shape-rendering="crispEdges"/>
<rect x="779" y="649.68" width="61" height="31.87" fill="rgb(0,195,255)" shape-rendering="crispEdges"/>
<rect x="779" y="681.05" width="61" height="31.87" fill="rgb(0,160,255)" shape-rendering="crispEdges"/>
<rect x="779" y="712.42" width="61" height="31.87" fill="rgb(0,120,255)" shape-rendering="crispEdges"/>
<rect x="779" y="743.79" width="61" height="31.87" fill="rgb(0,85,255)" shape-rendering="crispEdges"/>
<rect x="779" y="775.16" width="61" height="31.87" fill="rgb(0,30,240)" shape-rendering="crispEdges"/>
<rect x="779" y="806.53" width="61" height="31.87" fill="rgb(0,0,190)" shape-rendering="crispEdges"/>
<rect x="779" y="209" width="61" height="628" fill="none" stroke="#000" stroke-width="2" shape-rendering="crispEdges"/>
<g opacity="0.999">
<text x="846.3" y="252.0" font-size="34" letter-spacing="-1.3">17.6</text>
<text x="846.3" y="283.4" font-size="34" letter-spacing="-1.3">17.2</text>
<text x="846.3" y="314.7" font-size="34" letter-spacing="-1.3">16.8</text>
<text x="846.3" y="346.1" font-size="34" letter-spacing="-1.3">16.4</text>
<text x="846.3" y="377.5" font-size="34" letter-spacing="-1.3">16.0</text>
<text x="846.3" y="408.9" font-size="34" letter-spacing="-1.3">15.6</text>
<text x="846.3" y="440.2" font-size="34" letter-spacing="-1.3">15.2</text>
<text x="846.3" y="471.6" font-size="34" letter-spacing="-1.3">14.8</text>
<text x="846.3" y="503.0" font-size="34" letter-spacing="-1.3">14.4</text>
<text x="846.3" y="534.3" font-size="34" letter-spacing="-1.3">14.0</text>
<text x="846.3" y="565.7" font-size="34" letter-spacing="-1.3">13.6</text>
<text x="846.3" y="597.1" font-size="34" letter-spacing="-1.3">13.2</text>
<text x="846.3" y="628.4" font-size="34" letter-spacing="-1.3">12.8</text>
<text x="846.3" y="659.8" font-size="34" letter-spacing="-1.3">12.4</text>
<text x="846.3" y="691.2" font-size="34" letter-spacing="-1.3">12.0</text>
<text x="846.3" y="722.5" font-size="34" letter-spacing="-1.3">11.6</text>
<text x="846.3" y="753.9" font-size="34" letter-spacing="-1.3">11.2</text>
<text x="846.3" y="785.3" font-size="34" letter-spacing="-1.3">10.8</text>
<text x="846.3" y="816.7" font-size="34" letter-spacing="-1.3">10.4</text>
<text x="235" y="132.5" font-size="30.2">Surface Temperature</text>
<text x="283.7" y="882.3" font-size="30.2" xml:space="preserve">0:00:00Z  18 Aug 2006</text>
<text x="197" y="201" class="s" font-size="20.2" word-spacing="3" text-anchor="middle">122 48'W</text>
<text x="326" y="201" class="s" font-size="20.2" word-spacing="3" text-anchor="middle">122 36'W</text>
<text x="455" y="201" class="s" font-size="20.2" word-spacing="3" text-anchor="middle">122 24'W</text>
<text x="584" y="201" class="s" font-size="20.2" word-spacing="3" text-anchor="middle">122 12'W</text>
<text x="713" y="201" class="s" font-size="20.2" word-spacing="3" text-anchor="middle">122W</text>
<text x="162" y="372" class="s" font-size="20.2" word-spacing="4.5" text-anchor="end">37 12'N</text>
<text x="162" y="533" class="s" font-size="20.2" word-spacing="4.5" text-anchor="end">37N</text>
<text x="162" y="695" class="s" font-size="20.2" word-spacing="4.5" text-anchor="end">36 48'N</text>
</g>
</svg></body></html>
